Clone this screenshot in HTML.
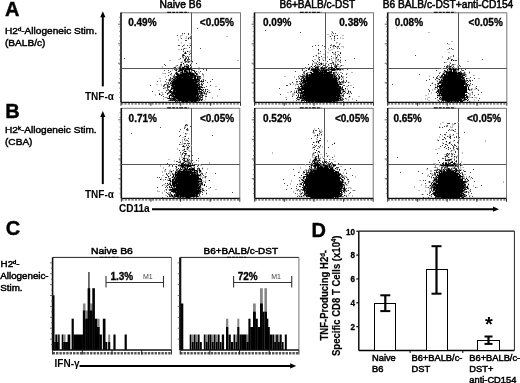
<!DOCTYPE html>
<html><head><meta charset="utf-8"><style>
html,body{margin:0;padding:0;background:#fff;}
body{width:520px;height:383px;overflow:hidden;}
svg{display:block;font-family:"Liberation Sans", sans-serif;will-change:transform;}
</style></head><body>
<svg width="520" height="383" viewBox="0 0 520 383">
<line x1="121" y1="12.8" x2="240.5" y2="12.8" stroke="#777" stroke-width="1"/>
<line x1="240.5" y1="12.5" x2="240.5" y2="102.3" stroke="#777" stroke-width="1"/>
<line x1="121" y1="102.3" x2="240.5" y2="102.3" stroke="#111" stroke-width="1.3"/>
<line x1="121" y1="12.5" x2="121" y2="102.3" stroke="#111" stroke-width="1.6"/>
<line x1="191.5" y1="12.5" x2="191.5" y2="102.3" stroke="#555" stroke-width="1"/>
<line x1="121" y1="68.5" x2="240.5" y2="68.5" stroke="#555" stroke-width="1"/>
<line x1="118" y1="82.77826086956522" x2="121" y2="82.77826086956522" stroke="#444" stroke-width="0.8"/>
<line x1="118" y1="63.25652173913043" x2="121" y2="63.25652173913043" stroke="#444" stroke-width="0.8"/>
<line x1="118" y1="43.73478260869565" x2="121" y2="43.73478260869565" stroke="#444" stroke-width="0.8"/>
<line x1="118" y1="24.213043478260857" x2="121" y2="24.213043478260857" stroke="#444" stroke-width="0.8"/>
<line x1="121" y1="103.8" x2="240.5" y2="103.8" stroke="#555" stroke-width="1.3" stroke-dasharray="2.2 1.2"/>
<line x1="119.2" y1="97.57368421052631" x2="121" y2="97.57368421052631" stroke="#555" stroke-width="0.7"/>
<line x1="119.2" y1="92.84736842105264" x2="121" y2="92.84736842105264" stroke="#555" stroke-width="0.7"/>
<line x1="119.2" y1="88.12105263157895" x2="121" y2="88.12105263157895" stroke="#555" stroke-width="0.7"/>
<line x1="119.2" y1="83.39473684210526" x2="121" y2="83.39473684210526" stroke="#555" stroke-width="0.7"/>
<line x1="119.2" y1="78.66842105263157" x2="121" y2="78.66842105263157" stroke="#555" stroke-width="0.7"/>
<line x1="119.2" y1="73.9421052631579" x2="121" y2="73.9421052631579" stroke="#555" stroke-width="0.7"/>
<line x1="119.2" y1="69.2157894736842" x2="121" y2="69.2157894736842" stroke="#555" stroke-width="0.7"/>
<line x1="119.2" y1="64.48947368421052" x2="121" y2="64.48947368421052" stroke="#555" stroke-width="0.7"/>
<line x1="119.2" y1="59.76315789473684" x2="121" y2="59.76315789473684" stroke="#555" stroke-width="0.7"/>
<line x1="119.2" y1="55.036842105263155" x2="121" y2="55.036842105263155" stroke="#555" stroke-width="0.7"/>
<line x1="119.2" y1="50.310526315789474" x2="121" y2="50.310526315789474" stroke="#555" stroke-width="0.7"/>
<line x1="119.2" y1="45.58421052631579" x2="121" y2="45.58421052631579" stroke="#555" stroke-width="0.7"/>
<line x1="119.2" y1="40.85789473684211" x2="121" y2="40.85789473684211" stroke="#555" stroke-width="0.7"/>
<line x1="119.2" y1="36.13157894736841" x2="121" y2="36.13157894736841" stroke="#555" stroke-width="0.7"/>
<line x1="119.2" y1="31.405263157894737" x2="121" y2="31.405263157894737" stroke="#555" stroke-width="0.7"/>
<line x1="119.2" y1="26.67894736842105" x2="121" y2="26.67894736842105" stroke="#555" stroke-width="0.7"/>
<line x1="119.2" y1="21.952631578947376" x2="121" y2="21.952631578947376" stroke="#555" stroke-width="0.7"/>
<line x1="119.2" y1="17.226315789473688" x2="121" y2="17.226315789473688" stroke="#555" stroke-width="0.7"/>
<line x1="167.2" y1="12.4" x2="188.7" y2="12.4" stroke="#111" stroke-width="1.3" stroke-dasharray="4 1 3 1 2 1"/>
<line x1="121.0" y1="102.3" x2="121.0" y2="105.8" stroke="#333" stroke-width="1"/>
<line x1="150.875" y1="102.3" x2="150.875" y2="105.8" stroke="#333" stroke-width="1"/>
<line x1="180.75" y1="102.3" x2="180.75" y2="105.8" stroke="#333" stroke-width="1"/>
<line x1="210.625" y1="102.3" x2="210.625" y2="105.8" stroke="#333" stroke-width="1"/>
<line x1="240.5" y1="102.3" x2="240.5" y2="105.8" stroke="#333" stroke-width="1"/>
<line x1="254.5" y1="12.8" x2="373.5" y2="12.8" stroke="#777" stroke-width="1"/>
<line x1="373.5" y1="12.5" x2="373.5" y2="102.3" stroke="#777" stroke-width="1"/>
<line x1="254.5" y1="102.3" x2="373.5" y2="102.3" stroke="#111" stroke-width="1.3"/>
<line x1="254.5" y1="12.5" x2="254.5" y2="102.3" stroke="#111" stroke-width="1.6"/>
<line x1="325.5" y1="12.5" x2="325.5" y2="102.3" stroke="#555" stroke-width="1"/>
<line x1="254.5" y1="68.5" x2="373.5" y2="68.5" stroke="#555" stroke-width="1"/>
<line x1="251.5" y1="82.77826086956522" x2="254.5" y2="82.77826086956522" stroke="#444" stroke-width="0.8"/>
<line x1="251.5" y1="63.25652173913043" x2="254.5" y2="63.25652173913043" stroke="#444" stroke-width="0.8"/>
<line x1="251.5" y1="43.73478260869565" x2="254.5" y2="43.73478260869565" stroke="#444" stroke-width="0.8"/>
<line x1="251.5" y1="24.213043478260857" x2="254.5" y2="24.213043478260857" stroke="#444" stroke-width="0.8"/>
<line x1="254.5" y1="103.8" x2="373.5" y2="103.8" stroke="#555" stroke-width="1.3" stroke-dasharray="2.2 1.2"/>
<line x1="252.7" y1="97.57368421052631" x2="254.5" y2="97.57368421052631" stroke="#555" stroke-width="0.7"/>
<line x1="252.7" y1="92.84736842105264" x2="254.5" y2="92.84736842105264" stroke="#555" stroke-width="0.7"/>
<line x1="252.7" y1="88.12105263157895" x2="254.5" y2="88.12105263157895" stroke="#555" stroke-width="0.7"/>
<line x1="252.7" y1="83.39473684210526" x2="254.5" y2="83.39473684210526" stroke="#555" stroke-width="0.7"/>
<line x1="252.7" y1="78.66842105263157" x2="254.5" y2="78.66842105263157" stroke="#555" stroke-width="0.7"/>
<line x1="252.7" y1="73.9421052631579" x2="254.5" y2="73.9421052631579" stroke="#555" stroke-width="0.7"/>
<line x1="252.7" y1="69.2157894736842" x2="254.5" y2="69.2157894736842" stroke="#555" stroke-width="0.7"/>
<line x1="252.7" y1="64.48947368421052" x2="254.5" y2="64.48947368421052" stroke="#555" stroke-width="0.7"/>
<line x1="252.7" y1="59.76315789473684" x2="254.5" y2="59.76315789473684" stroke="#555" stroke-width="0.7"/>
<line x1="252.7" y1="55.036842105263155" x2="254.5" y2="55.036842105263155" stroke="#555" stroke-width="0.7"/>
<line x1="252.7" y1="50.310526315789474" x2="254.5" y2="50.310526315789474" stroke="#555" stroke-width="0.7"/>
<line x1="252.7" y1="45.58421052631579" x2="254.5" y2="45.58421052631579" stroke="#555" stroke-width="0.7"/>
<line x1="252.7" y1="40.85789473684211" x2="254.5" y2="40.85789473684211" stroke="#555" stroke-width="0.7"/>
<line x1="252.7" y1="36.13157894736841" x2="254.5" y2="36.13157894736841" stroke="#555" stroke-width="0.7"/>
<line x1="252.7" y1="31.405263157894737" x2="254.5" y2="31.405263157894737" stroke="#555" stroke-width="0.7"/>
<line x1="252.7" y1="26.67894736842105" x2="254.5" y2="26.67894736842105" stroke="#555" stroke-width="0.7"/>
<line x1="252.7" y1="21.952631578947376" x2="254.5" y2="21.952631578947376" stroke="#555" stroke-width="0.7"/>
<line x1="252.7" y1="17.226315789473688" x2="254.5" y2="17.226315789473688" stroke="#555" stroke-width="0.7"/>
<line x1="299.8" y1="12.4" x2="321.3" y2="12.4" stroke="#111" stroke-width="1.3" stroke-dasharray="4 1 3 1 2 1"/>
<line x1="254.5" y1="102.3" x2="254.5" y2="105.8" stroke="#333" stroke-width="1"/>
<line x1="284.25" y1="102.3" x2="284.25" y2="105.8" stroke="#333" stroke-width="1"/>
<line x1="314.0" y1="102.3" x2="314.0" y2="105.8" stroke="#333" stroke-width="1"/>
<line x1="343.75" y1="102.3" x2="343.75" y2="105.8" stroke="#333" stroke-width="1"/>
<line x1="373.5" y1="102.3" x2="373.5" y2="105.8" stroke="#333" stroke-width="1"/>
<line x1="387.7" y1="12.8" x2="506.8" y2="12.8" stroke="#777" stroke-width="1"/>
<line x1="506.8" y1="12.5" x2="506.8" y2="102.3" stroke="#777" stroke-width="1"/>
<line x1="387.7" y1="102.3" x2="506.8" y2="102.3" stroke="#111" stroke-width="1.3"/>
<line x1="387.7" y1="12.5" x2="387.7" y2="102.3" stroke="#111" stroke-width="1.6"/>
<line x1="458.5" y1="12.5" x2="458.5" y2="102.3" stroke="#555" stroke-width="1"/>
<line x1="387.7" y1="68.5" x2="506.8" y2="68.5" stroke="#555" stroke-width="1"/>
<line x1="384.7" y1="82.77826086956522" x2="387.7" y2="82.77826086956522" stroke="#444" stroke-width="0.8"/>
<line x1="384.7" y1="63.25652173913043" x2="387.7" y2="63.25652173913043" stroke="#444" stroke-width="0.8"/>
<line x1="384.7" y1="43.73478260869565" x2="387.7" y2="43.73478260869565" stroke="#444" stroke-width="0.8"/>
<line x1="384.7" y1="24.213043478260857" x2="387.7" y2="24.213043478260857" stroke="#444" stroke-width="0.8"/>
<line x1="387.7" y1="103.8" x2="506.8" y2="103.8" stroke="#555" stroke-width="1.3" stroke-dasharray="2.2 1.2"/>
<line x1="385.9" y1="97.57368421052631" x2="387.7" y2="97.57368421052631" stroke="#555" stroke-width="0.7"/>
<line x1="385.9" y1="92.84736842105264" x2="387.7" y2="92.84736842105264" stroke="#555" stroke-width="0.7"/>
<line x1="385.9" y1="88.12105263157895" x2="387.7" y2="88.12105263157895" stroke="#555" stroke-width="0.7"/>
<line x1="385.9" y1="83.39473684210526" x2="387.7" y2="83.39473684210526" stroke="#555" stroke-width="0.7"/>
<line x1="385.9" y1="78.66842105263157" x2="387.7" y2="78.66842105263157" stroke="#555" stroke-width="0.7"/>
<line x1="385.9" y1="73.9421052631579" x2="387.7" y2="73.9421052631579" stroke="#555" stroke-width="0.7"/>
<line x1="385.9" y1="69.2157894736842" x2="387.7" y2="69.2157894736842" stroke="#555" stroke-width="0.7"/>
<line x1="385.9" y1="64.48947368421052" x2="387.7" y2="64.48947368421052" stroke="#555" stroke-width="0.7"/>
<line x1="385.9" y1="59.76315789473684" x2="387.7" y2="59.76315789473684" stroke="#555" stroke-width="0.7"/>
<line x1="385.9" y1="55.036842105263155" x2="387.7" y2="55.036842105263155" stroke="#555" stroke-width="0.7"/>
<line x1="385.9" y1="50.310526315789474" x2="387.7" y2="50.310526315789474" stroke="#555" stroke-width="0.7"/>
<line x1="385.9" y1="45.58421052631579" x2="387.7" y2="45.58421052631579" stroke="#555" stroke-width="0.7"/>
<line x1="385.9" y1="40.85789473684211" x2="387.7" y2="40.85789473684211" stroke="#555" stroke-width="0.7"/>
<line x1="385.9" y1="36.13157894736841" x2="387.7" y2="36.13157894736841" stroke="#555" stroke-width="0.7"/>
<line x1="385.9" y1="31.405263157894737" x2="387.7" y2="31.405263157894737" stroke="#555" stroke-width="0.7"/>
<line x1="385.9" y1="26.67894736842105" x2="387.7" y2="26.67894736842105" stroke="#555" stroke-width="0.7"/>
<line x1="385.9" y1="21.952631578947376" x2="387.7" y2="21.952631578947376" stroke="#555" stroke-width="0.7"/>
<line x1="385.9" y1="17.226315789473688" x2="387.7" y2="17.226315789473688" stroke="#555" stroke-width="0.7"/>
<line x1="433.8" y1="12.4" x2="455.3" y2="12.4" stroke="#111" stroke-width="1.3" stroke-dasharray="4 1 3 1 2 1"/>
<line x1="387.7" y1="102.3" x2="387.7" y2="105.8" stroke="#333" stroke-width="1"/>
<line x1="417.475" y1="102.3" x2="417.475" y2="105.8" stroke="#333" stroke-width="1"/>
<line x1="447.25" y1="102.3" x2="447.25" y2="105.8" stroke="#333" stroke-width="1"/>
<line x1="477.025" y1="102.3" x2="477.025" y2="105.8" stroke="#333" stroke-width="1"/>
<line x1="506.8" y1="102.3" x2="506.8" y2="105.8" stroke="#333" stroke-width="1"/>
<line x1="121.3" y1="108.3" x2="239.8" y2="108.3" stroke="#777" stroke-width="1"/>
<line x1="239.8" y1="108" x2="239.8" y2="198.3" stroke="#777" stroke-width="1"/>
<line x1="121.3" y1="198.3" x2="239.8" y2="198.3" stroke="#111" stroke-width="1.3"/>
<line x1="121.3" y1="108" x2="121.3" y2="198.3" stroke="#111" stroke-width="1.6"/>
<line x1="191.5" y1="108" x2="191.5" y2="198.3" stroke="#555" stroke-width="1"/>
<line x1="121.3" y1="164.5" x2="239.8" y2="164.5" stroke="#555" stroke-width="1"/>
<line x1="118.3" y1="178.66956521739132" x2="121.3" y2="178.66956521739132" stroke="#444" stroke-width="0.8"/>
<line x1="118.3" y1="159.0391304347826" x2="121.3" y2="159.0391304347826" stroke="#444" stroke-width="0.8"/>
<line x1="118.3" y1="139.40869565217392" x2="121.3" y2="139.40869565217392" stroke="#444" stroke-width="0.8"/>
<line x1="118.3" y1="119.77826086956522" x2="121.3" y2="119.77826086956522" stroke="#444" stroke-width="0.8"/>
<line x1="121.3" y1="199.8" x2="239.8" y2="199.8" stroke="#555" stroke-width="1.3" stroke-dasharray="2.2 1.2"/>
<line x1="119.5" y1="193.54736842105265" x2="121.3" y2="193.54736842105265" stroke="#555" stroke-width="0.7"/>
<line x1="119.5" y1="188.79473684210527" x2="121.3" y2="188.79473684210527" stroke="#555" stroke-width="0.7"/>
<line x1="119.5" y1="184.0421052631579" x2="121.3" y2="184.0421052631579" stroke="#555" stroke-width="0.7"/>
<line x1="119.5" y1="179.28947368421052" x2="121.3" y2="179.28947368421052" stroke="#555" stroke-width="0.7"/>
<line x1="119.5" y1="174.53684210526316" x2="121.3" y2="174.53684210526316" stroke="#555" stroke-width="0.7"/>
<line x1="119.5" y1="169.7842105263158" x2="121.3" y2="169.7842105263158" stroke="#555" stroke-width="0.7"/>
<line x1="119.5" y1="165.03157894736842" x2="121.3" y2="165.03157894736842" stroke="#555" stroke-width="0.7"/>
<line x1="119.5" y1="160.27894736842106" x2="121.3" y2="160.27894736842106" stroke="#555" stroke-width="0.7"/>
<line x1="119.5" y1="155.5263157894737" x2="121.3" y2="155.5263157894737" stroke="#555" stroke-width="0.7"/>
<line x1="119.5" y1="150.7736842105263" x2="121.3" y2="150.7736842105263" stroke="#555" stroke-width="0.7"/>
<line x1="119.5" y1="146.02105263157895" x2="121.3" y2="146.02105263157895" stroke="#555" stroke-width="0.7"/>
<line x1="119.5" y1="141.2684210526316" x2="121.3" y2="141.2684210526316" stroke="#555" stroke-width="0.7"/>
<line x1="119.5" y1="136.5157894736842" x2="121.3" y2="136.5157894736842" stroke="#555" stroke-width="0.7"/>
<line x1="119.5" y1="131.76315789473682" x2="121.3" y2="131.76315789473682" stroke="#555" stroke-width="0.7"/>
<line x1="119.5" y1="127.01052631578948" x2="121.3" y2="127.01052631578948" stroke="#555" stroke-width="0.7"/>
<line x1="119.5" y1="122.2578947368421" x2="121.3" y2="122.2578947368421" stroke="#555" stroke-width="0.7"/>
<line x1="119.5" y1="117.50526315789475" x2="121.3" y2="117.50526315789475" stroke="#555" stroke-width="0.7"/>
<line x1="119.5" y1="112.75263157894737" x2="121.3" y2="112.75263157894737" stroke="#555" stroke-width="0.7"/>
<line x1="167.2" y1="107.9" x2="188.7" y2="107.9" stroke="#111" stroke-width="1.3" stroke-dasharray="4 1 3 1 2 1"/>
<line x1="121.3" y1="198.3" x2="121.3" y2="201.8" stroke="#333" stroke-width="1"/>
<line x1="150.925" y1="198.3" x2="150.925" y2="201.8" stroke="#333" stroke-width="1"/>
<line x1="180.55" y1="198.3" x2="180.55" y2="201.8" stroke="#333" stroke-width="1"/>
<line x1="210.175" y1="198.3" x2="210.175" y2="201.8" stroke="#333" stroke-width="1"/>
<line x1="239.8" y1="198.3" x2="239.8" y2="201.8" stroke="#333" stroke-width="1"/>
<line x1="254.7" y1="108.3" x2="373.2" y2="108.3" stroke="#777" stroke-width="1"/>
<line x1="373.2" y1="108" x2="373.2" y2="198.3" stroke="#777" stroke-width="1"/>
<line x1="254.7" y1="198.3" x2="373.2" y2="198.3" stroke="#111" stroke-width="1.3"/>
<line x1="254.7" y1="108" x2="254.7" y2="198.3" stroke="#111" stroke-width="1.6"/>
<line x1="324.5" y1="108" x2="324.5" y2="198.3" stroke="#555" stroke-width="1"/>
<line x1="254.7" y1="164.5" x2="373.2" y2="164.5" stroke="#555" stroke-width="1"/>
<line x1="251.7" y1="178.66956521739132" x2="254.7" y2="178.66956521739132" stroke="#444" stroke-width="0.8"/>
<line x1="251.7" y1="159.0391304347826" x2="254.7" y2="159.0391304347826" stroke="#444" stroke-width="0.8"/>
<line x1="251.7" y1="139.40869565217392" x2="254.7" y2="139.40869565217392" stroke="#444" stroke-width="0.8"/>
<line x1="251.7" y1="119.77826086956522" x2="254.7" y2="119.77826086956522" stroke="#444" stroke-width="0.8"/>
<line x1="254.7" y1="199.8" x2="373.2" y2="199.8" stroke="#555" stroke-width="1.3" stroke-dasharray="2.2 1.2"/>
<line x1="252.89999999999998" y1="193.54736842105265" x2="254.7" y2="193.54736842105265" stroke="#555" stroke-width="0.7"/>
<line x1="252.89999999999998" y1="188.79473684210527" x2="254.7" y2="188.79473684210527" stroke="#555" stroke-width="0.7"/>
<line x1="252.89999999999998" y1="184.0421052631579" x2="254.7" y2="184.0421052631579" stroke="#555" stroke-width="0.7"/>
<line x1="252.89999999999998" y1="179.28947368421052" x2="254.7" y2="179.28947368421052" stroke="#555" stroke-width="0.7"/>
<line x1="252.89999999999998" y1="174.53684210526316" x2="254.7" y2="174.53684210526316" stroke="#555" stroke-width="0.7"/>
<line x1="252.89999999999998" y1="169.7842105263158" x2="254.7" y2="169.7842105263158" stroke="#555" stroke-width="0.7"/>
<line x1="252.89999999999998" y1="165.03157894736842" x2="254.7" y2="165.03157894736842" stroke="#555" stroke-width="0.7"/>
<line x1="252.89999999999998" y1="160.27894736842106" x2="254.7" y2="160.27894736842106" stroke="#555" stroke-width="0.7"/>
<line x1="252.89999999999998" y1="155.5263157894737" x2="254.7" y2="155.5263157894737" stroke="#555" stroke-width="0.7"/>
<line x1="252.89999999999998" y1="150.7736842105263" x2="254.7" y2="150.7736842105263" stroke="#555" stroke-width="0.7"/>
<line x1="252.89999999999998" y1="146.02105263157895" x2="254.7" y2="146.02105263157895" stroke="#555" stroke-width="0.7"/>
<line x1="252.89999999999998" y1="141.2684210526316" x2="254.7" y2="141.2684210526316" stroke="#555" stroke-width="0.7"/>
<line x1="252.89999999999998" y1="136.5157894736842" x2="254.7" y2="136.5157894736842" stroke="#555" stroke-width="0.7"/>
<line x1="252.89999999999998" y1="131.76315789473682" x2="254.7" y2="131.76315789473682" stroke="#555" stroke-width="0.7"/>
<line x1="252.89999999999998" y1="127.01052631578948" x2="254.7" y2="127.01052631578948" stroke="#555" stroke-width="0.7"/>
<line x1="252.89999999999998" y1="122.2578947368421" x2="254.7" y2="122.2578947368421" stroke="#555" stroke-width="0.7"/>
<line x1="252.89999999999998" y1="117.50526315789475" x2="254.7" y2="117.50526315789475" stroke="#555" stroke-width="0.7"/>
<line x1="252.89999999999998" y1="112.75263157894737" x2="254.7" y2="112.75263157894737" stroke="#555" stroke-width="0.7"/>
<line x1="299.8" y1="107.9" x2="321.3" y2="107.9" stroke="#111" stroke-width="1.3" stroke-dasharray="4 1 3 1 2 1"/>
<line x1="254.7" y1="198.3" x2="254.7" y2="201.8" stroke="#333" stroke-width="1"/>
<line x1="284.325" y1="198.3" x2="284.325" y2="201.8" stroke="#333" stroke-width="1"/>
<line x1="313.95" y1="198.3" x2="313.95" y2="201.8" stroke="#333" stroke-width="1"/>
<line x1="343.575" y1="198.3" x2="343.575" y2="201.8" stroke="#333" stroke-width="1"/>
<line x1="373.2" y1="198.3" x2="373.2" y2="201.8" stroke="#333" stroke-width="1"/>
<line x1="387.7" y1="108.3" x2="506.5" y2="108.3" stroke="#777" stroke-width="1"/>
<line x1="506.5" y1="108" x2="506.5" y2="198.3" stroke="#777" stroke-width="1"/>
<line x1="387.7" y1="198.3" x2="506.5" y2="198.3" stroke="#111" stroke-width="1.3"/>
<line x1="387.7" y1="108" x2="387.7" y2="198.3" stroke="#111" stroke-width="1.6"/>
<line x1="458.5" y1="108" x2="458.5" y2="198.3" stroke="#555" stroke-width="1"/>
<line x1="387.7" y1="164.5" x2="506.5" y2="164.5" stroke="#555" stroke-width="1"/>
<line x1="384.7" y1="178.66956521739132" x2="387.7" y2="178.66956521739132" stroke="#444" stroke-width="0.8"/>
<line x1="384.7" y1="159.0391304347826" x2="387.7" y2="159.0391304347826" stroke="#444" stroke-width="0.8"/>
<line x1="384.7" y1="139.40869565217392" x2="387.7" y2="139.40869565217392" stroke="#444" stroke-width="0.8"/>
<line x1="384.7" y1="119.77826086956522" x2="387.7" y2="119.77826086956522" stroke="#444" stroke-width="0.8"/>
<line x1="387.7" y1="199.8" x2="506.5" y2="199.8" stroke="#555" stroke-width="1.3" stroke-dasharray="2.2 1.2"/>
<line x1="385.9" y1="193.54736842105265" x2="387.7" y2="193.54736842105265" stroke="#555" stroke-width="0.7"/>
<line x1="385.9" y1="188.79473684210527" x2="387.7" y2="188.79473684210527" stroke="#555" stroke-width="0.7"/>
<line x1="385.9" y1="184.0421052631579" x2="387.7" y2="184.0421052631579" stroke="#555" stroke-width="0.7"/>
<line x1="385.9" y1="179.28947368421052" x2="387.7" y2="179.28947368421052" stroke="#555" stroke-width="0.7"/>
<line x1="385.9" y1="174.53684210526316" x2="387.7" y2="174.53684210526316" stroke="#555" stroke-width="0.7"/>
<line x1="385.9" y1="169.7842105263158" x2="387.7" y2="169.7842105263158" stroke="#555" stroke-width="0.7"/>
<line x1="385.9" y1="165.03157894736842" x2="387.7" y2="165.03157894736842" stroke="#555" stroke-width="0.7"/>
<line x1="385.9" y1="160.27894736842106" x2="387.7" y2="160.27894736842106" stroke="#555" stroke-width="0.7"/>
<line x1="385.9" y1="155.5263157894737" x2="387.7" y2="155.5263157894737" stroke="#555" stroke-width="0.7"/>
<line x1="385.9" y1="150.7736842105263" x2="387.7" y2="150.7736842105263" stroke="#555" stroke-width="0.7"/>
<line x1="385.9" y1="146.02105263157895" x2="387.7" y2="146.02105263157895" stroke="#555" stroke-width="0.7"/>
<line x1="385.9" y1="141.2684210526316" x2="387.7" y2="141.2684210526316" stroke="#555" stroke-width="0.7"/>
<line x1="385.9" y1="136.5157894736842" x2="387.7" y2="136.5157894736842" stroke="#555" stroke-width="0.7"/>
<line x1="385.9" y1="131.76315789473682" x2="387.7" y2="131.76315789473682" stroke="#555" stroke-width="0.7"/>
<line x1="385.9" y1="127.01052631578948" x2="387.7" y2="127.01052631578948" stroke="#555" stroke-width="0.7"/>
<line x1="385.9" y1="122.2578947368421" x2="387.7" y2="122.2578947368421" stroke="#555" stroke-width="0.7"/>
<line x1="385.9" y1="117.50526315789475" x2="387.7" y2="117.50526315789475" stroke="#555" stroke-width="0.7"/>
<line x1="385.9" y1="112.75263157894737" x2="387.7" y2="112.75263157894737" stroke="#555" stroke-width="0.7"/>
<line x1="433.8" y1="107.9" x2="455.3" y2="107.9" stroke="#111" stroke-width="1.3" stroke-dasharray="4 1 3 1 2 1"/>
<line x1="387.7" y1="198.3" x2="387.7" y2="201.8" stroke="#333" stroke-width="1"/>
<line x1="417.4" y1="198.3" x2="417.4" y2="201.8" stroke="#333" stroke-width="1"/>
<line x1="447.1" y1="198.3" x2="447.1" y2="201.8" stroke="#333" stroke-width="1"/>
<line x1="476.8" y1="198.3" x2="476.8" y2="201.8" stroke="#333" stroke-width="1"/>
<line x1="506.5" y1="198.3" x2="506.5" y2="201.8" stroke="#333" stroke-width="1"/>
<path fill="#bbb" d="M396 27h1v1h-1zM396 28h1v1h-1zM331 31h2v1h-2zM428 32h2v1h-2zM331 33h1v1h-1zM182 34h1v1h-1zM190 34h2v1h-2zM327 34h2v1h-2zM331 34h1v1h-1zM180 35h3v1h-3zM334 35h3v1h-3zM342 35h2v1h-2zM180 36h1v1h-1zM186 36h1v1h-1zM226 36h2v1h-2zM329 36h1v1h-1zM180 37h1v1h-1zM186 37h1v1h-1zM188 37h1v1h-1zM340 37h1v1h-1zM185 38h2v1h-2zM340 38h1v1h-1zM342 38h2v1h-2zM178 39h1v1h-1zM188 39h1v1h-1zM331 39h1v1h-1zM334 39h1v1h-1zM178 40h1v1h-1zM451 41h2v1h-2zM181 42h1v1h-1zM337 42h1v1h-1zM181 43h1v1h-1zM189 43h2v1h-2zM336 43h1v1h-1zM339 43h2v1h-2zM184 44h1v1h-1zM448 44h2v1h-2zM184 45h1v1h-1zM189 45h1v1h-1zM332 46h1v1h-1zM334 46h1v1h-1zM341 46h3v1h-3zM333 47h1v1h-1zM336 47h3v1h-3zM343 47h1v1h-1zM183 48h1v1h-1zM185 48h2v1h-2zM328 48h1v1h-1zM333 48h2v1h-2zM178 49h2v1h-2zM324 49h2v1h-2zM328 49h1v1h-1zM331 49h2v1h-2zM447 49h2v1h-2zM183 50h1v1h-1zM190 50h1v1h-1zM329 50h2v1h-2zM185 51h1v1h-1zM188 51h3v1h-3zM335 51h1v1h-1zM338 51h1v1h-1zM184 52h1v1h-1zM189 52h1v1h-1zM318 52h1v1h-1zM327 52h2v1h-2zM333 52h1v1h-1zM448 52h2v1h-2zM319 53h2v1h-2zM333 53h3v1h-3zM318 54h1v1h-1zM323 54h2v1h-2zM333 54h2v1h-2zM315 55h1v1h-1zM335 55h1v1h-1zM183 56h1v1h-1zM188 56h3v1h-3zM316 56h1v1h-1zM318 56h1v1h-1zM327 56h1v1h-1zM335 56h1v1h-1zM442 56h1v1h-1zM450 56h2v1h-2zM182 57h1v1h-1zM185 57h1v1h-1zM323 57h2v1h-2zM327 57h1v1h-1zM333 57h1v1h-1zM335 57h1v1h-1zM337 57h1v1h-1zM442 57h1v1h-1zM450 57h1v1h-1zM183 58h1v1h-1zM322 58h1v1h-1zM333 58h1v1h-1zM450 58h1v1h-1zM178 59h2v1h-2zM314 59h2v1h-2zM318 59h1v1h-1zM322 59h1v1h-1zM331 59h1v1h-1zM335 59h3v1h-3zM340 59h1v1h-1zM448 59h1v1h-1zM169 60h2v1h-2zM188 60h1v1h-1zM190 60h1v1h-1zM237 60h2v1h-2zM331 60h2v1h-2zM335 60h1v1h-1zM338 60h1v1h-1zM454 60h1v1h-1zM182 61h1v1h-1zM184 61h1v1h-1zM190 61h1v1h-1zM325 61h1v1h-1zM332 61h1v1h-1zM336 61h1v1h-1zM338 61h1v1h-1zM340 61h1v1h-1zM467 61h2v1h-2zM180 62h1v1h-1zM182 62h1v1h-1zM184 62h1v1h-1zM186 62h2v1h-2zM189 62h1v1h-1zM191 62h2v1h-2zM314 62h3v1h-3zM318 62h1v1h-1zM321 62h1v1h-1zM325 62h1v1h-1zM335 62h2v1h-2zM445 62h2v1h-2zM449 62h2v1h-2zM181 63h1v1h-1zM314 63h2v1h-2zM318 63h1v1h-1zM322 63h1v1h-1zM329 63h1v1h-1zM332 63h1v1h-1zM335 63h1v1h-1zM337 63h1v1h-1zM183 64h2v1h-2zM191 64h1v1h-1zM316 64h1v1h-1zM318 64h1v1h-1zM320 64h1v1h-1zM322 64h2v1h-2zM331 64h1v1h-1zM334 64h1v1h-1zM454 64h2v1h-2zM176 65h1v1h-1zM185 65h1v1h-1zM187 65h1v1h-1zM191 65h1v1h-1zM312 65h1v1h-1zM317 65h2v1h-2zM329 65h1v1h-1zM337 65h1v1h-1zM340 65h1v1h-1zM342 65h2v1h-2zM448 65h1v1h-1zM452 65h2v1h-2zM457 65h2v1h-2zM162 66h1v1h-1zM175 66h2v1h-2zM181 66h2v1h-2zM189 66h1v1h-1zM310 66h1v1h-1zM313 66h1v1h-1zM315 66h1v1h-1zM326 66h1v1h-1zM337 66h3v1h-3zM457 66h1v1h-1zM162 67h1v1h-1zM173 67h1v1h-1zM177 67h2v1h-2zM181 67h1v1h-1zM185 67h1v1h-1zM198 67h2v1h-2zM307 67h1v1h-1zM310 67h1v1h-1zM334 67h1v1h-1zM339 67h1v1h-1zM448 67h1v1h-1zM451 67h1v1h-1zM453 67h2v1h-2zM457 67h1v1h-1zM177 68h1v1h-1zM305 68h1v1h-1zM307 68h1v1h-1zM310 68h1v1h-1zM319 68h1v1h-1zM326 68h2v1h-2zM330 68h1v1h-1zM335 68h1v1h-1zM441 68h2v1h-2zM447 68h1v1h-1zM457 68h1v1h-1zM172 69h1v1h-1zM178 69h1v1h-1zM198 69h2v1h-2zM341 69h1v1h-1zM343 69h1v1h-1zM448 69h1v1h-1zM172 70h1v1h-1zM183 70h1v1h-1zM305 70h1v1h-1zM330 70h1v1h-1zM336 70h1v1h-1zM343 70h1v1h-1zM448 70h1v1h-1zM457 70h1v1h-1zM461 70h1v1h-1zM176 71h2v1h-2zM183 71h1v1h-1zM188 71h1v1h-1zM190 71h1v1h-1zM195 71h1v1h-1zM198 71h1v1h-1zM303 71h1v1h-1zM305 71h1v1h-1zM310 71h1v1h-1zM328 71h1v1h-1zM335 71h2v1h-2zM443 71h1v1h-1zM452 71h1v1h-1zM457 71h2v1h-2zM461 71h1v1h-1zM464 71h1v1h-1zM469 71h1v1h-1zM175 72h1v1h-1zM198 72h2v1h-2zM309 72h1v1h-1zM332 72h1v1h-1zM338 72h1v1h-1zM341 72h1v1h-1zM351 72h2v1h-2zM439 72h1v1h-1zM443 72h1v1h-1zM463 72h1v1h-1zM465 72h1v1h-1zM162 73h3v1h-3zM179 73h1v1h-1zM199 73h1v1h-1zM303 73h1v1h-1zM310 73h1v1h-1zM335 73h4v1h-4zM346 73h2v1h-2zM442 73h1v1h-1zM465 73h1v1h-1zM469 73h1v1h-1zM171 74h1v1h-1zM175 74h1v1h-1zM303 74h3v1h-3zM466 74h1v1h-1zM171 75h1v1h-1zM173 75h1v1h-1zM176 75h1v1h-1zM198 75h1v1h-1zM299 75h2v1h-2zM302 75h1v1h-1zM305 75h1v1h-1zM429 75h1v1h-1zM465 75h2v1h-2zM473 75h2v1h-2zM165 76h1v1h-1zM172 76h1v1h-1zM203 76h1v1h-1zM284 76h2v1h-2zM294 76h1v1h-1zM336 76h1v1h-1zM342 76h2v1h-2zM429 76h1v1h-1zM439 76h2v1h-2zM463 76h1v1h-1zM466 76h1v1h-1zM165 77h1v1h-1zM203 77h1v1h-1zM294 77h1v1h-1zM298 77h2v1h-2zM301 77h1v1h-1zM304 77h1v1h-1zM337 77h2v1h-2zM340 77h1v1h-1zM343 77h1v1h-1zM437 77h1v1h-1zM439 77h1v1h-1zM159 78h2v1h-2zM173 78h1v1h-1zM193 78h1v1h-1zM298 78h1v1h-1zM341 78h1v1h-1zM343 78h1v1h-1zM438 78h1v1h-1zM440 78h2v1h-2zM468 78h2v1h-2zM478 78h2v1h-2zM168 79h1v1h-1zM171 79h2v1h-2zM202 79h1v1h-1zM298 79h1v1h-1zM337 79h1v1h-1zM339 79h1v1h-1zM343 79h1v1h-1zM466 79h1v1h-1zM469 79h1v1h-1zM160 80h1v1h-1zM168 80h1v1h-1zM171 80h1v1h-1zM338 80h1v1h-1zM436 80h2v1h-2zM439 80h1v1h-1zM160 81h1v1h-1zM344 81h1v1h-1zM166 82h2v1h-2zM201 82h1v1h-1zM296 82h2v1h-2zM301 82h1v1h-1zM344 82h1v1h-1zM349 82h1v1h-1zM432 82h1v1h-1zM438 82h1v1h-1zM289 83h2v1h-2zM293 83h1v1h-1zM296 83h1v1h-1zM338 83h1v1h-1zM341 83h3v1h-3zM431 83h1v1h-1zM156 84h2v1h-2zM161 84h1v1h-1zM170 84h1v1h-1zM200 84h1v1h-1zM293 84h1v1h-1zM295 84h2v1h-2zM298 84h1v1h-1zM302 84h1v1h-1zM342 84h1v1h-1zM434 84h1v1h-1zM437 84h1v1h-1zM469 84h2v1h-2zM161 85h1v1h-1zM168 85h1v1h-1zM170 85h1v1h-1zM201 85h1v1h-1zM295 85h1v1h-1zM298 85h1v1h-1zM339 85h1v1h-1zM350 85h2v1h-2zM435 85h1v1h-1zM438 85h1v1h-1zM470 85h1v1h-1zM164 86h1v1h-1zM171 86h1v1h-1zM215 86h2v1h-2zM346 86h1v1h-1zM435 86h1v1h-1zM469 86h1v1h-1zM164 87h1v1h-1zM166 87h1v1h-1zM203 87h1v1h-1zM475 87h1v1h-1zM164 88h2v1h-2zM202 88h1v1h-1zM296 88h1v1h-1zM347 88h1v1h-1zM434 88h2v1h-2zM471 88h2v1h-2zM475 88h1v1h-1zM202 89h1v1h-1zM206 89h1v1h-1zM297 89h1v1h-1zM345 89h1v1h-1zM347 89h1v1h-1zM432 89h1v1h-1zM434 89h2v1h-2zM437 89h1v1h-1zM467 89h1v1h-1zM470 89h1v1h-1zM472 89h1v1h-1zM474 89h2v1h-2zM477 89h2v1h-2zM158 90h2v1h-2zM203 90h1v1h-1zM208 90h2v1h-2zM294 90h1v1h-1zM297 90h1v1h-1zM303 90h1v1h-1zM344 90h2v1h-2zM432 90h1v1h-1zM470 90h2v1h-2zM166 91h1v1h-1zM204 91h1v1h-1zM290 91h1v1h-1zM294 91h1v1h-1zM299 91h1v1h-1zM345 91h1v1h-1zM349 91h1v1h-1zM472 91h1v1h-1zM161 92h2v1h-2zM206 92h3v1h-3zM210 92h1v1h-1zM287 92h2v1h-2zM290 92h1v1h-1zM295 92h1v1h-1zM341 92h1v1h-1zM343 92h1v1h-1zM431 92h1v1h-1zM435 92h1v1h-1zM471 92h1v1h-1zM162 93h1v1h-1zM169 93h1v1h-1zM292 93h3v1h-3zM298 93h1v1h-1zM342 93h2v1h-2zM346 93h1v1h-1zM348 93h2v1h-2zM428 93h1v1h-1zM431 93h1v1h-1zM438 93h1v1h-1zM469 93h2v1h-2zM472 93h1v1h-1zM155 94h1v1h-1zM160 94h1v1h-1zM163 94h1v1h-1zM204 94h2v1h-2zM292 94h3v1h-3zM340 94h2v1h-2zM349 94h1v1h-1zM428 94h1v1h-1zM437 94h2v1h-2zM469 94h2v1h-2zM155 95h1v1h-1zM205 95h1v1h-1zM217 95h1v1h-1zM292 95h2v1h-2zM425 95h2v1h-2zM467 95h1v1h-1zM469 95h2v1h-2zM168 96h1v1h-1zM201 96h1v1h-1zM217 96h1v1h-1zM297 96h1v1h-1zM341 96h2v1h-2zM350 96h1v1h-1zM358 96h2v1h-2zM437 96h2v1h-2zM440 96h2v1h-2zM468 96h2v1h-2zM167 97h1v1h-1zM172 97h1v1h-1zM212 97h1v1h-1zM285 97h2v1h-2zM342 97h1v1h-1zM348 97h2v1h-2zM428 97h2v1h-2zM439 97h1v1h-1zM469 97h3v1h-3zM474 97h3v1h-3zM163 98h1v1h-1zM205 98h1v1h-1zM212 98h1v1h-1zM299 98h1v1h-1zM341 98h1v1h-1zM343 98h1v1h-1zM346 98h1v1h-1zM352 98h1v1h-1zM425 98h1v1h-1zM427 98h1v1h-1zM476 98h1v1h-1zM163 99h1v1h-1zM169 99h1v1h-1zM205 99h1v1h-1zM346 99h1v1h-1zM348 99h1v1h-1zM352 99h1v1h-1zM425 99h1v1h-1zM427 99h1v1h-1zM437 99h1v1h-1zM462 99h1v1h-1zM474 99h1v1h-1zM200 100h1v1h-1zM202 100h1v1h-1zM204 100h1v1h-1zM293 100h1v1h-1zM298 100h2v1h-2zM348 100h1v1h-1zM428 100h2v1h-2zM437 100h1v1h-1zM465 100h1v1h-1zM468 100h1v1h-1zM474 100h1v1h-1zM168 101h1v1h-1zM172 101h1v1h-1zM174 101h1v1h-1zM180 101h1v1h-1zM204 101h1v1h-1zM210 101h2v1h-2zM293 101h1v1h-1zM303 101h1v1h-1zM338 101h2v1h-2zM438 101h1v1h-1zM440 101h1v1h-1zM442 101h1v1h-1zM463 101h2v1h-2zM468 101h1v1h-1zM471 101h2v1h-2zM442 122h2v1h-2zM457 122h2v1h-2zM440 123h1v1h-1zM452 123h1v1h-1zM185 124h1v1h-1zM187 124h1v1h-1zM440 124h1v1h-1zM452 124h3v1h-3zM446 125h1v1h-1zM452 125h1v1h-1zM184 126h2v1h-2zM439 126h1v1h-1zM447 126h1v1h-1zM450 126h1v1h-1zM452 126h1v1h-1zM440 127h1v1h-1zM450 127h3v1h-3zM314 128h1v1h-1zM188 129h1v1h-1zM314 129h1v1h-1zM319 129h1v1h-1zM321 129h1v1h-1zM451 129h2v1h-2zM186 130h1v1h-1zM188 130h1v1h-1zM319 130h1v1h-1zM321 130h1v1h-1zM450 130h3v1h-3zM320 131h3v1h-3zM183 132h1v1h-1zM312 132h1v1h-1zM314 132h1v1h-1zM321 132h1v1h-1zM186 133h2v1h-2zM313 133h2v1h-2zM456 133h2v1h-2zM185 134h2v1h-2zM319 134h1v1h-1zM449 134h2v1h-2zM314 135h1v1h-1zM318 135h2v1h-2zM321 135h1v1h-1zM442 135h1v1h-1zM445 135h1v1h-1zM449 135h2v1h-2zM452 135h2v1h-2zM314 136h1v1h-1zM317 136h1v1h-1zM439 136h1v1h-1zM442 136h1v1h-1zM448 136h2v1h-2zM182 137h2v1h-2zM439 137h1v1h-1zM184 138h2v1h-2zM316 138h1v1h-1zM182 139h1v1h-1zM186 139h1v1h-1zM316 139h2v1h-2zM437 139h1v1h-1zM445 139h1v1h-1zM458 139h2v1h-2zM182 140h1v1h-1zM184 140h2v1h-2zM317 140h1v1h-1zM327 140h1v1h-1zM437 140h1v1h-1zM453 140h1v1h-1zM485 140h1v1h-1zM182 141h1v1h-1zM185 141h1v1h-1zM319 141h1v1h-1zM327 141h1v1h-1zM450 141h1v1h-1zM453 141h1v1h-1zM485 141h1v1h-1zM182 142h1v1h-1zM314 142h1v1h-1zM334 142h1v1h-1zM442 142h1v1h-1zM446 142h1v1h-1zM182 143h2v1h-2zM318 143h2v1h-2zM442 143h1v1h-1zM448 143h1v1h-1zM450 143h1v1h-1zM180 144h3v1h-3zM184 144h1v1h-1zM186 144h1v1h-1zM188 144h1v1h-1zM458 144h1v1h-1zM190 145h2v1h-2zM458 145h1v1h-1zM185 146h1v1h-1zM187 146h1v1h-1zM313 146h1v1h-1zM319 146h2v1h-2zM322 146h1v1h-1zM184 147h1v1h-1zM312 147h1v1h-1zM322 147h1v1h-1zM454 147h1v1h-1zM177 148h1v1h-1zM184 148h1v1h-1zM186 148h1v1h-1zM312 148h1v1h-1zM318 148h1v1h-1zM438 148h2v1h-2zM448 148h1v1h-1zM177 149h1v1h-1zM183 149h1v1h-1zM186 149h1v1h-1zM435 149h2v1h-2zM453 149h2v1h-2zM184 150h1v1h-1zM188 150h2v1h-2zM452 150h3v1h-3zM186 151h1v1h-1zM189 151h2v1h-2zM450 151h2v1h-2zM272 152h1v1h-1zM313 152h2v1h-2zM317 152h1v1h-1zM462 152h1v1h-1zM180 153h1v1h-1zM183 153h1v1h-1zM272 153h1v1h-1zM312 153h1v1h-1zM314 153h1v1h-1zM317 153h1v1h-1zM446 153h1v1h-1zM448 153h1v1h-1zM452 153h2v1h-2zM462 153h1v1h-1zM180 154h2v1h-2zM186 154h1v1h-1zM313 154h1v1h-1zM317 154h1v1h-1zM320 154h2v1h-2zM444 154h2v1h-2zM447 154h1v1h-1zM449 154h1v1h-1zM181 155h1v1h-1zM186 155h2v1h-2zM313 155h1v1h-1zM327 155h2v1h-2zM334 155h1v1h-1zM448 155h1v1h-1zM451 155h2v1h-2zM457 155h1v1h-1zM181 156h1v1h-1zM188 156h1v1h-1zM312 156h1v1h-1zM317 156h1v1h-1zM322 156h1v1h-1zM334 156h1v1h-1zM444 156h1v1h-1zM452 156h1v1h-1zM455 156h1v1h-1zM457 156h1v1h-1zM179 157h1v1h-1zM181 157h3v1h-3zM188 157h1v1h-1zM312 157h3v1h-3zM316 157h1v1h-1zM320 157h1v1h-1zM322 157h1v1h-1zM324 157h1v1h-1zM445 157h1v1h-1zM449 157h1v1h-1zM454 157h1v1h-1zM179 158h1v1h-1zM187 158h2v1h-2zM314 158h1v1h-1zM317 158h1v1h-1zM324 158h1v1h-1zM451 158h2v1h-2zM454 158h1v1h-1zM456 158h1v1h-1zM168 159h2v1h-2zM183 159h1v1h-1zM188 159h1v1h-1zM310 159h1v1h-1zM313 159h1v1h-1zM318 159h1v1h-1zM325 159h2v1h-2zM330 159h1v1h-1zM332 159h2v1h-2zM174 160h1v1h-1zM179 160h2v1h-2zM185 160h2v1h-2zM189 160h2v1h-2zM198 160h1v1h-1zM310 160h1v1h-1zM312 160h1v1h-1zM450 160h2v1h-2zM174 161h1v1h-1zM179 161h1v1h-1zM183 161h1v1h-1zM189 161h2v1h-2zM198 161h1v1h-1zM309 161h1v1h-1zM316 161h1v1h-1zM320 161h1v1h-1zM334 161h2v1h-2zM447 161h1v1h-1zM449 161h1v1h-1zM461 161h1v1h-1zM182 162h1v1h-1zM186 162h1v1h-1zM190 162h1v1h-1zM193 162h2v1h-2zM209 162h1v1h-1zM310 162h1v1h-1zM318 162h1v1h-1zM328 162h1v1h-1zM332 162h1v1h-1zM456 162h1v1h-1zM461 162h1v1h-1zM180 163h1v1h-1zM186 163h2v1h-2zM191 163h1v1h-1zM209 163h1v1h-1zM312 163h1v1h-1zM319 163h1v1h-1zM321 163h1v1h-1zM331 163h1v1h-1zM433 163h3v1h-3zM447 163h1v1h-1zM456 163h2v1h-2zM172 164h1v1h-1zM175 164h1v1h-1zM177 164h2v1h-2zM180 164h1v1h-1zM191 164h1v1h-1zM193 164h1v1h-1zM197 164h1v1h-1zM199 164h2v1h-2zM305 164h1v1h-1zM313 164h1v1h-1zM326 164h1v1h-1zM331 164h1v1h-1zM336 164h2v1h-2zM435 164h1v1h-1zM439 164h1v1h-1zM462 164h1v1h-1zM160 165h1v1h-1zM197 165h1v1h-1zM200 165h2v1h-2zM305 165h1v1h-1zM310 165h1v1h-1zM330 165h1v1h-1zM332 165h1v1h-1zM439 165h1v1h-1zM462 165h1v1h-1zM160 166h1v1h-1zM168 166h2v1h-2zM178 166h2v1h-2zM193 166h2v1h-2zM310 166h1v1h-1zM332 166h1v1h-1zM340 166h2v1h-2zM439 166h1v1h-1zM441 166h1v1h-1zM444 166h1v1h-1zM460 166h1v1h-1zM163 167h1v1h-1zM186 167h1v1h-1zM190 167h1v1h-1zM192 167h2v1h-2zM198 167h1v1h-1zM202 167h1v1h-1zM300 167h1v1h-1zM309 167h2v1h-2zM316 167h1v1h-1zM333 167h1v1h-1zM436 167h2v1h-2zM452 167h2v1h-2zM455 167h1v1h-1zM457 167h1v1h-1zM460 167h1v1h-1zM462 167h2v1h-2zM163 168h1v1h-1zM175 168h2v1h-2zM183 168h1v1h-1zM207 168h1v1h-1zM300 168h1v1h-1zM310 168h1v1h-1zM312 168h2v1h-2zM329 168h1v1h-1zM333 168h1v1h-1zM336 168h1v1h-1zM442 168h1v1h-1zM445 168h1v1h-1zM452 168h1v1h-1zM460 168h1v1h-1zM170 169h1v1h-1zM198 169h1v1h-1zM202 169h1v1h-1zM207 169h1v1h-1zM305 169h2v1h-2zM334 169h1v1h-1zM336 169h1v1h-1zM344 169h1v1h-1zM426 169h2v1h-2zM435 169h2v1h-2zM440 169h1v1h-1zM442 169h1v1h-1zM452 169h1v1h-1zM457 169h2v1h-2zM460 169h2v1h-2zM164 170h2v1h-2zM169 170h2v1h-2zM181 170h2v1h-2zM198 170h1v1h-1zM304 170h2v1h-2zM307 170h1v1h-1zM335 170h1v1h-1zM344 170h1v1h-1zM430 170h2v1h-2zM461 170h1v1h-1zM162 171h1v1h-1zM164 171h2v1h-2zM169 171h1v1h-1zM172 171h1v1h-1zM193 171h1v1h-1zM201 171h1v1h-1zM299 171h1v1h-1zM304 171h1v1h-1zM309 171h1v1h-1zM334 171h1v1h-1zM430 171h2v1h-2zM454 171h1v1h-1zM457 171h1v1h-1zM162 172h1v1h-1zM169 172h1v1h-1zM200 172h2v1h-2zM299 172h1v1h-1zM343 172h1v1h-1zM346 172h1v1h-1zM435 172h1v1h-1zM440 172h1v1h-1zM458 172h1v1h-1zM169 173h2v1h-2zM173 173h2v1h-2zM200 173h1v1h-1zM205 173h1v1h-1zM302 173h2v1h-2zM308 173h1v1h-1zM343 173h1v1h-1zM431 173h2v1h-2zM437 173h2v1h-2zM459 173h1v1h-1zM461 173h1v1h-1zM167 174h1v1h-1zM170 174h1v1h-1zM199 174h1v1h-1zM205 174h1v1h-1zM303 174h2v1h-2zM428 174h1v1h-1zM431 174h3v1h-3zM438 174h1v1h-1zM463 174h3v1h-3zM162 175h2v1h-2zM174 175h1v1h-1zM201 175h1v1h-1zM344 175h1v1h-1zM427 175h2v1h-2zM433 175h2v1h-2zM436 175h1v1h-1zM458 175h1v1h-1zM462 175h1v1h-1zM169 176h1v1h-1zM174 176h1v1h-1zM199 176h3v1h-3zM204 176h1v1h-1zM340 176h1v1h-1zM344 176h3v1h-3zM355 176h1v1h-1zM427 176h1v1h-1zM435 176h1v1h-1zM437 176h1v1h-1zM464 176h1v1h-1zM466 176h1v1h-1zM161 177h1v1h-1zM171 177h1v1h-1zM200 177h1v1h-1zM203 177h2v1h-2zM300 177h3v1h-3zM344 177h1v1h-1zM355 177h1v1h-1zM434 177h1v1h-1zM461 177h1v1h-1zM463 177h2v1h-2zM466 177h1v1h-1zM468 177h2v1h-2zM161 178h1v1h-1zM168 178h1v1h-1zM202 178h1v1h-1zM205 178h1v1h-1zM300 178h1v1h-1zM304 178h2v1h-2zM347 178h1v1h-1zM431 178h1v1h-1zM433 178h1v1h-1zM437 178h1v1h-1zM470 178h1v1h-1zM161 179h1v1h-1zM163 179h1v1h-1zM167 179h1v1h-1zM303 179h1v1h-1zM343 179h2v1h-2zM433 179h1v1h-1zM464 179h1v1h-1zM470 179h1v1h-1zM163 180h1v1h-1zM167 180h1v1h-1zM202 180h1v1h-1zM205 180h1v1h-1zM208 180h1v1h-1zM291 180h1v1h-1zM301 180h1v1h-1zM304 180h1v1h-1zM341 180h1v1h-1zM347 180h1v1h-1zM419 180h2v1h-2zM432 180h1v1h-1zM464 180h1v1h-1zM467 180h1v1h-1zM203 181h3v1h-3zM291 181h1v1h-1zM299 181h2v1h-2zM349 181h1v1h-1zM428 181h1v1h-1zM430 181h1v1h-1zM434 181h1v1h-1zM468 181h1v1h-1zM503 181h1v1h-1zM169 182h1v1h-1zM301 182h1v1h-1zM428 182h1v1h-1zM430 182h2v1h-2zM433 182h1v1h-1zM503 182h1v1h-1zM290 183h1v1h-1zM299 183h1v1h-1zM344 183h1v1h-1zM347 183h2v1h-2zM437 183h1v1h-1zM465 183h1v1h-1zM467 183h2v1h-2zM163 184h2v1h-2zM167 184h1v1h-1zM290 184h1v1h-1zM299 184h1v1h-1zM344 184h2v1h-2zM421 184h1v1h-1zM165 185h2v1h-2zM168 185h1v1h-1zM201 185h3v1h-3zM304 185h1v1h-1zM346 185h2v1h-2zM421 185h1v1h-1zM425 185h2v1h-2zM429 185h1v1h-1zM431 185h1v1h-1zM467 185h2v1h-2zM473 185h1v1h-1zM343 186h1v1h-1zM414 186h1v1h-1zM425 186h1v1h-1zM429 186h2v1h-2zM473 186h1v1h-1zM175 187h1v1h-1zM201 187h1v1h-1zM343 187h1v1h-1zM348 187h3v1h-3zM414 187h1v1h-1zM425 187h3v1h-3zM430 187h1v1h-1zM468 187h1v1h-1zM476 187h2v1h-2zM167 188h1v1h-1zM170 188h1v1h-1zM201 188h1v1h-1zM203 188h1v1h-1zM208 188h2v1h-2zM348 188h1v1h-1zM350 188h2v1h-2zM429 188h1v1h-1zM432 188h1v1h-1zM165 189h1v1h-1zM168 189h1v1h-1zM201 189h1v1h-1zM203 189h1v1h-1zM215 189h2v1h-2zM297 189h1v1h-1zM300 189h1v1h-1zM429 189h1v1h-1zM468 189h1v1h-1zM157 190h1v1h-1zM164 190h1v1h-1zM204 190h1v1h-1zM296 190h1v1h-1zM346 190h2v1h-2zM352 190h1v1h-1zM355 190h1v1h-1zM418 190h2v1h-2zM425 190h1v1h-1zM429 190h1v1h-1zM432 190h1v1h-1zM469 190h2v1h-2zM157 191h3v1h-3zM164 191h1v1h-1zM202 191h1v1h-1zM204 191h1v1h-1zM293 191h1v1h-1zM345 191h1v1h-1zM425 191h1v1h-1zM429 191h1v1h-1zM433 191h2v1h-2zM467 191h2v1h-2zM162 192h1v1h-1zM168 192h2v1h-2zM172 192h1v1h-1zM206 192h1v1h-1zM293 192h1v1h-1zM300 192h1v1h-1zM463 192h1v1h-1zM469 192h1v1h-1zM162 193h1v1h-1zM168 193h2v1h-2zM173 193h1v1h-1zM297 193h1v1h-1zM299 193h2v1h-2zM302 193h2v1h-2zM342 193h1v1h-1zM344 193h2v1h-2zM468 193h1v1h-1zM198 194h1v1h-1zM206 194h1v1h-1zM297 194h1v1h-1zM301 194h1v1h-1zM348 194h1v1h-1zM421 194h1v1h-1zM423 194h1v1h-1zM432 194h1v1h-1zM468 194h1v1h-1zM165 195h2v1h-2zM173 195h1v1h-1zM298 195h2v1h-2zM301 195h1v1h-1zM345 195h1v1h-1zM348 195h1v1h-1zM352 195h1v1h-1zM430 195h2v1h-2zM469 195h2v1h-2zM199 196h2v1h-2zM300 196h1v1h-1zM302 196h3v1h-3zM352 196h1v1h-1zM466 196h1v1h-1zM170 197h3v1h-3zM175 197h1v1h-1zM306 197h1v1h-1zM309 197h1v1h-1zM339 197h2v1h-2zM342 197h1v1h-1zM434 197h1v1h-1zM460 197h1v1h-1zM466 197h1v1h-1zM469 197h2v1h-2z"/>
<path fill="#888" d="M190 36h1v1h-1zM189 37h2v1h-2zM334 37h1v1h-1zM331 38h1v1h-1zM336 42h1v1h-1zM331 44h1v1h-1zM331 45h1v1h-1zM452 49h2v1h-2zM337 51h1v1h-1zM186 53h1v1h-1zM182 54h1v1h-1zM337 55h1v1h-1zM337 56h1v1h-1zM318 57h1v1h-1zM318 58h1v1h-1zM331 58h1v1h-1zM335 58h2v1h-2zM449 58h1v1h-1zM337 60h1v1h-1zM187 61h1v1h-1zM335 61h1v1h-1zM339 61h1v1h-1zM312 63h1v1h-1zM323 63h1v1h-1zM325 63h2v1h-2zM449 64h1v1h-1zM184 65h1v1h-1zM186 65h1v1h-1zM320 65h1v1h-1zM328 65h1v1h-1zM334 65h1v1h-1zM449 65h1v1h-1zM451 65h1v1h-1zM179 66h1v1h-1zM316 66h1v1h-1zM319 66h1v1h-1zM340 66h1v1h-1zM448 66h1v1h-1zM451 66h1v1h-1zM320 67h1v1h-1zM323 67h1v1h-1zM328 67h1v1h-1zM450 67h1v1h-1zM451 68h1v1h-1zM454 68h1v1h-1zM175 69h1v1h-1zM177 69h1v1h-1zM192 69h1v1h-1zM320 69h1v1h-1zM178 70h1v1h-1zM187 70h2v1h-2zM310 70h1v1h-1zM329 70h1v1h-1zM335 70h1v1h-1zM337 70h1v1h-1zM339 70h2v1h-2zM445 70h1v1h-1zM449 70h1v1h-1zM456 70h1v1h-1zM180 71h2v1h-2zM312 71h1v1h-1zM319 71h1v1h-1zM444 71h1v1h-1zM168 72h2v1h-2zM177 72h1v1h-1zM183 72h1v1h-1zM192 72h1v1h-1zM194 72h1v1h-1zM304 72h1v1h-1zM307 72h2v1h-2zM335 72h1v1h-1zM340 72h1v1h-1zM440 72h1v1h-1zM445 72h1v1h-1zM457 72h1v1h-1zM165 73h1v1h-1zM178 73h1v1h-1zM194 73h1v1h-1zM197 73h1v1h-1zM202 73h1v1h-1zM444 73h1v1h-1zM174 74h1v1h-1zM202 74h2v1h-2zM308 74h1v1h-1zM335 74h1v1h-1zM196 75h2v1h-2zM203 75h1v1h-1zM335 75h1v1h-1zM200 77h1v1h-1zM171 78h1v1h-1zM196 78h1v1h-1zM464 78h1v1h-1zM467 78h1v1h-1zM305 79h1v1h-1zM438 79h1v1h-1zM442 79h1v1h-1zM440 80h1v1h-1zM465 80h1v1h-1zM169 81h1v1h-1zM199 81h1v1h-1zM300 81h1v1h-1zM302 81h1v1h-1zM337 81h2v1h-2zM341 81h1v1h-1zM466 81h1v1h-1zM171 82h1v1h-1zM198 82h1v1h-1zM202 82h1v1h-1zM300 82h1v1h-1zM338 82h1v1h-1zM341 82h1v1h-1zM166 83h1v1h-1zM197 83h1v1h-1zM199 83h1v1h-1zM166 84h3v1h-3zM171 84h1v1h-1zM163 85h1v1h-1zM198 86h1v1h-1zM347 86h1v1h-1zM467 86h2v1h-2zM165 87h1v1h-1zM169 87h1v1h-1zM341 87h1v1h-1zM167 89h1v1h-1zM170 89h1v1h-1zM172 89h1v1h-1zM167 90h2v1h-2zM198 90h1v1h-1zM296 90h1v1h-1zM302 90h1v1h-1zM341 90h2v1h-2zM348 90h1v1h-1zM172 91h1v1h-1zM342 91h1v1h-1zM436 91h1v1h-1zM198 92h1v1h-1zM203 92h1v1h-1zM203 93h1v1h-1zM205 93h1v1h-1zM299 93h1v1h-1zM162 94h1v1h-1zM202 94h1v1h-1zM301 94h1v1h-1zM440 94h1v1h-1zM465 94h1v1h-1zM472 94h1v1h-1zM174 95h1v1h-1zM341 95h1v1h-1zM171 96h1v1h-1zM439 96h1v1h-1zM165 97h2v1h-2zM171 97h1v1h-1zM199 97h1v1h-1zM339 97h1v1h-1zM441 97h1v1h-1zM468 97h1v1h-1zM202 98h1v1h-1zM297 98h1v1h-1zM440 98h1v1h-1zM176 99h1v1h-1zM301 99h1v1h-1zM339 99h1v1h-1zM439 99h1v1h-1zM463 99h1v1h-1zM168 100h1v1h-1zM441 100h1v1h-1zM176 101h1v1h-1zM178 101h1v1h-1zM197 101h1v1h-1zM186 125h1v1h-1zM184 127h2v1h-2zM454 131h2v1h-2zM313 132h1v1h-1zM184 136h1v1h-1zM186 140h1v1h-1zM317 141h1v1h-1zM450 142h1v1h-1zM187 148h2v1h-2zM317 148h1v1h-1zM182 150h2v1h-2zM319 151h1v1h-1zM312 154h1v1h-1zM318 154h1v1h-1zM451 154h1v1h-1zM185 155h1v1h-1zM312 155h1v1h-1zM314 155h1v1h-1zM315 156h1v1h-1zM446 156h1v1h-1zM456 156h1v1h-1zM184 157h1v1h-1zM185 158h2v1h-2zM319 158h2v1h-2zM447 159h1v1h-1zM320 160h1v1h-1zM454 160h1v1h-1zM188 161h1v1h-1zM315 161h1v1h-1zM448 161h1v1h-1zM451 161h1v1h-1zM455 161h1v1h-1zM187 162h1v1h-1zM326 162h2v1h-2zM329 163h1v1h-1zM189 164h1v1h-1zM325 164h1v1h-1zM441 164h1v1h-1zM444 164h1v1h-1zM461 164h1v1h-1zM322 165h1v1h-1zM435 165h1v1h-1zM454 165h1v1h-1zM457 165h1v1h-1zM461 165h1v1h-1zM180 166h1v1h-1zM184 166h1v1h-1zM191 166h1v1h-1zM316 166h1v1h-1zM319 166h1v1h-1zM323 166h1v1h-1zM334 166h1v1h-1zM435 166h1v1h-1zM442 166h1v1h-1zM448 166h7v1h-7zM456 166h1v1h-1zM180 167h2v1h-2zM188 167h1v1h-1zM328 167h1v1h-1zM434 167h2v1h-2zM446 167h1v1h-1zM337 168h1v1h-1zM437 168h1v1h-1zM446 168h1v1h-1zM182 169h1v1h-1zM308 169h2v1h-2zM444 169h1v1h-1zM459 169h1v1h-1zM177 170h1v1h-1zM309 170h1v1h-1zM442 170h1v1h-1zM170 171h1v1h-1zM176 171h1v1h-1zM192 171h1v1h-1zM195 171h1v1h-1zM438 171h1v1h-1zM171 172h1v1h-1zM438 172h1v1h-1zM456 172h2v1h-2zM461 172h2v1h-2zM176 173h1v1h-1zM174 174h1v1h-1zM190 174h1v1h-1zM341 174h1v1h-1zM463 175h1v1h-1zM172 176h1v1h-1zM206 176h1v1h-1zM339 176h1v1h-1zM342 176h2v1h-2zM431 176h1v1h-1zM463 176h1v1h-1zM168 177h1v1h-1zM173 177h1v1h-1zM202 177h1v1h-1zM173 178h1v1h-1zM461 178h1v1h-1zM464 178h1v1h-1zM170 179h1v1h-1zM304 179h1v1h-1zM174 180h1v1h-1zM199 180h2v1h-2zM340 180h1v1h-1zM465 180h1v1h-1zM171 181h1v1h-1zM343 181h1v1h-1zM170 182h1v1h-1zM199 182h2v1h-2zM303 182h1v1h-1zM344 182h1v1h-1zM348 182h1v1h-1zM435 182h1v1h-1zM432 184h1v1h-1zM199 185h1v1h-1zM302 185h1v1h-1zM466 186h1v1h-1zM173 187h1v1h-1zM200 188h1v1h-1zM345 188h1v1h-1zM302 189h1v1h-1zM463 189h1v1h-1zM166 190h1v1h-1zM299 190h2v1h-2zM353 190h2v1h-2zM299 191h2v1h-2zM464 191h2v1h-2zM429 192h1v1h-1zM200 193h1v1h-1zM170 194h1v1h-1zM462 194h1v1h-1zM465 194h1v1h-1zM170 195h1v1h-1zM304 195h1v1h-1zM346 195h1v1h-1zM465 195h1v1h-1zM171 196h1v1h-1zM343 196h1v1h-1zM181 197h1v1h-1zM184 197h1v1h-1zM191 197h1v1h-1zM194 197h1v1h-1zM307 197h1v1h-1zM334 197h1v1h-1z"/>
<path fill="#444" d="M197 28h1v1h-1zM265 30h1v1h-1zM300 32h1v1h-1zM332 32h1v1h-1zM182 33h1v1h-1zM184 33h1v1h-1zM188 33h1v1h-1zM333 33h1v1h-1zM335 33h1v1h-1zM188 34h1v1h-1zM177 35h1v1h-1zM332 35h1v1h-1zM337 35h1v1h-1zM330 36h1v1h-1zM181 38h1v1h-1zM190 38h1v1h-1zM334 38h1v1h-1zM337 38h1v1h-1zM185 40h2v1h-2zM334 40h1v1h-1zM447 43h1v1h-1zM339 44h1v1h-1zM178 45h2v1h-2zM183 45h1v1h-1zM187 45h1v1h-1zM190 45h1v1h-1zM315 45h1v1h-1zM318 45h1v1h-1zM322 45h1v1h-1zM330 45h1v1h-1zM333 45h2v1h-2zM182 46h1v1h-1zM312 46h1v1h-1zM324 46h1v1h-1zM333 46h1v1h-1zM337 46h2v1h-2zM189 47h1v1h-1zM330 47h1v1h-1zM184 48h1v1h-1zM200 48h1v1h-1zM337 48h1v1h-1zM339 48h1v1h-1zM449 48h1v1h-1zM451 48h1v1h-1zM181 49h1v1h-1zM183 49h1v1h-1zM318 50h1v1h-1zM183 51h1v1h-1zM320 51h1v1h-1zM335 52h1v1h-1zM340 52h1v1h-1zM184 53h1v1h-1zM190 53h1v1h-1zM318 53h1v1h-1zM183 54h1v1h-1zM189 54h1v1h-1zM335 54h1v1h-1zM338 54h1v1h-1zM182 55h1v1h-1zM184 55h1v1h-1zM316 55h1v1h-1zM339 55h1v1h-1zM415 55h1v1h-1zM453 55h1v1h-1zM182 56h1v1h-1zM185 56h1v1h-1zM187 56h1v1h-1zM313 56h1v1h-1zM321 56h1v1h-1zM331 56h1v1h-1zM453 56h1v1h-1zM183 57h1v1h-1zM186 57h1v1h-1zM188 57h1v1h-1zM319 57h1v1h-1zM325 57h1v1h-1zM340 57h1v1h-1zM448 57h1v1h-1zM124 58h1v1h-1zM180 58h1v1h-1zM185 58h2v1h-2zM188 58h1v1h-1zM354 58h1v1h-1zM448 58h1v1h-1zM184 59h1v1h-1zM187 59h3v1h-3zM319 59h1v1h-1zM338 59h1v1h-1zM447 59h1v1h-1zM451 59h2v1h-2zM482 59h1v1h-1zM185 60h1v1h-1zM187 60h1v1h-1zM191 60h1v1h-1zM312 60h1v1h-1zM319 60h1v1h-1zM323 60h1v1h-1zM340 60h1v1h-1zM345 60h1v1h-1zM455 60h2v1h-2zM185 61h2v1h-2zM188 61h2v1h-2zM192 61h1v1h-1zM313 61h1v1h-1zM317 61h1v1h-1zM327 61h1v1h-1zM181 62h1v1h-1zM185 62h1v1h-1zM188 62h1v1h-1zM319 62h1v1h-1zM332 62h2v1h-2zM340 62h1v1h-1zM444 62h1v1h-1zM196 63h1v1h-1zM316 63h1v1h-1zM320 63h1v1h-1zM330 63h2v1h-2zM333 63h1v1h-1zM450 63h1v1h-1zM164 64h1v1h-1zM180 64h1v1h-1zM186 64h2v1h-2zM190 64h1v1h-1zM308 64h1v1h-1zM312 64h1v1h-1zM317 64h1v1h-1zM328 64h1v1h-1zM333 64h1v1h-1zM335 64h1v1h-1zM337 64h2v1h-2zM452 64h2v1h-2zM165 65h1v1h-1zM177 65h1v1h-1zM180 65h2v1h-2zM323 65h3v1h-3zM331 65h1v1h-1zM335 65h2v1h-2zM341 65h1v1h-1zM447 65h1v1h-1zM459 65h1v1h-1zM180 66h1v1h-1zM185 66h1v1h-1zM188 66h1v1h-1zM317 66h2v1h-2zM322 66h1v1h-1zM327 66h1v1h-1zM331 66h1v1h-1zM334 66h2v1h-2zM444 66h1v1h-1zM446 66h2v1h-2zM449 66h1v1h-1zM453 66h1v1h-1zM458 66h1v1h-1zM460 66h1v1h-1zM174 67h2v1h-2zM179 67h2v1h-2zM184 67h1v1h-1zM186 67h1v1h-1zM190 67h2v1h-2zM305 67h1v1h-1zM309 67h1v1h-1zM312 67h1v1h-1zM318 67h1v1h-1zM322 67h1v1h-1zM324 67h2v1h-2zM329 67h2v1h-2zM336 67h1v1h-1zM446 67h2v1h-2zM449 67h1v1h-1zM452 67h1v1h-1zM458 67h1v1h-1zM181 68h1v1h-1zM191 68h1v1h-1zM193 68h2v1h-2zM312 68h3v1h-3zM318 68h1v1h-1zM325 68h1v1h-1zM329 68h1v1h-1zM332 68h1v1h-1zM339 68h1v1h-1zM448 68h1v1h-1zM452 68h1v1h-1zM455 68h2v1h-2zM459 68h1v1h-1zM174 69h1v1h-1zM176 69h1v1h-1zM179 69h1v1h-1zM184 69h1v1h-1zM190 69h1v1h-1zM203 69h1v1h-1zM206 69h1v1h-1zM302 69h1v1h-1zM309 69h1v1h-1zM319 69h1v1h-1zM321 69h2v1h-2zM324 69h2v1h-2zM327 69h3v1h-3zM336 69h1v1h-1zM339 69h1v1h-1zM342 69h1v1h-1zM347 69h1v1h-1zM452 69h1v1h-1zM456 69h2v1h-2zM461 69h1v1h-1zM465 69h1v1h-1zM164 70h1v1h-1zM168 70h1v1h-1zM175 70h1v1h-1zM186 70h1v1h-1zM192 70h1v1h-1zM194 70h1v1h-1zM206 70h1v1h-1zM302 70h1v1h-1zM311 70h2v1h-2zM318 70h1v1h-1zM320 70h1v1h-1zM327 70h1v1h-1zM331 70h1v1h-1zM436 70h1v1h-1zM447 70h1v1h-1zM450 70h1v1h-1zM462 70h2v1h-2zM170 71h1v1h-1zM179 71h1v1h-1zM187 71h1v1h-1zM196 71h1v1h-1zM200 71h1v1h-1zM295 71h1v1h-1zM304 71h1v1h-1zM321 71h1v1h-1zM323 71h1v1h-1zM329 71h2v1h-2zM447 71h2v1h-2zM455 71h2v1h-2zM460 71h1v1h-1zM180 72h1v1h-1zM184 72h2v1h-2zM188 72h1v1h-1zM303 72h1v1h-1zM313 72h1v1h-1zM334 72h1v1h-1zM336 72h1v1h-1zM444 72h1v1h-1zM460 72h2v1h-2zM464 72h1v1h-1zM469 72h1v1h-1zM171 73h1v1h-1zM175 73h1v1h-1zM180 73h2v1h-2zM195 73h1v1h-1zM304 73h1v1h-1zM307 73h1v1h-1zM323 73h1v1h-1zM330 73h2v1h-2zM334 73h1v1h-1zM342 73h1v1h-1zM439 73h1v1h-1zM462 73h3v1h-3zM170 74h1v1h-1zM179 74h1v1h-1zM194 74h1v1h-1zM197 74h1v1h-1zM302 74h1v1h-1zM306 74h1v1h-1zM310 74h1v1h-1zM333 74h2v1h-2zM339 74h1v1h-1zM346 74h1v1h-1zM419 74h1v1h-1zM442 74h1v1h-1zM445 74h1v1h-1zM447 74h1v1h-1zM457 74h1v1h-1zM462 74h4v1h-4zM168 75h1v1h-1zM174 75h1v1h-1zM189 75h1v1h-1zM303 75h2v1h-2zM308 75h1v1h-1zM333 75h1v1h-1zM336 75h1v1h-1zM338 75h1v1h-1zM341 75h1v1h-1zM438 75h1v1h-1zM441 75h1v1h-1zM461 75h1v1h-1zM173 76h3v1h-3zM193 76h1v1h-1zM196 76h1v1h-1zM198 76h1v1h-1zM200 76h1v1h-1zM298 76h1v1h-1zM300 76h2v1h-2zM303 76h3v1h-3zM308 76h1v1h-1zM333 76h1v1h-1zM338 76h2v1h-2zM437 76h1v1h-1zM442 76h2v1h-2zM465 76h1v1h-1zM170 77h1v1h-1zM173 77h3v1h-3zM182 77h1v1h-1zM193 77h1v1h-1zM198 77h2v1h-2zM302 77h1v1h-1zM305 77h1v1h-1zM333 77h1v1h-1zM335 77h1v1h-1zM342 77h1v1h-1zM346 77h1v1h-1zM433 77h1v1h-1zM436 77h1v1h-1zM441 77h2v1h-2zM464 77h1v1h-1zM470 77h1v1h-1zM170 78h1v1h-1zM174 78h1v1h-1zM176 78h1v1h-1zM192 78h1v1h-1zM198 78h3v1h-3zM299 78h1v1h-1zM301 78h3v1h-3zM305 78h1v1h-1zM337 78h2v1h-2zM436 78h2v1h-2zM442 78h1v1h-1zM461 78h1v1h-1zM474 78h1v1h-1zM166 79h1v1h-1zM169 79h2v1h-2zM175 79h1v1h-1zM199 79h1v1h-1zM203 79h1v1h-1zM212 79h1v1h-1zM296 79h1v1h-1zM300 79h2v1h-2zM341 79h1v1h-1zM429 79h1v1h-1zM435 79h1v1h-1zM462 79h2v1h-2zM170 80h1v1h-1zM172 80h2v1h-2zM197 80h2v1h-2zM201 80h1v1h-1zM203 80h1v1h-1zM205 80h1v1h-1zM302 80h1v1h-1zM337 80h1v1h-1zM343 80h1v1h-1zM346 80h1v1h-1zM426 80h1v1h-1zM466 80h1v1h-1zM469 80h2v1h-2zM472 80h1v1h-1zM157 81h1v1h-1zM165 81h1v1h-1zM172 81h1v1h-1zM194 81h1v1h-1zM200 81h1v1h-1zM202 81h1v1h-1zM210 81h1v1h-1zM296 81h2v1h-2zM299 81h1v1h-1zM342 81h2v1h-2zM346 81h1v1h-1zM437 81h1v1h-1zM439 81h1v1h-1zM441 81h2v1h-2zM465 81h1v1h-1zM468 81h1v1h-1zM470 81h1v1h-1zM168 82h1v1h-1zM170 82h1v1h-1zM197 82h1v1h-1zM199 82h1v1h-1zM207 82h1v1h-1zM292 82h1v1h-1zM306 82h1v1h-1zM339 82h1v1h-1zM342 82h2v1h-2zM345 82h1v1h-1zM348 82h1v1h-1zM465 82h1v1h-1zM467 82h1v1h-1zM168 83h1v1h-1zM171 83h1v1h-1zM196 83h1v1h-1zM201 83h1v1h-1zM203 83h1v1h-1zM299 83h6v1h-6zM339 83h2v1h-2zM432 83h1v1h-1zM437 83h1v1h-1zM439 83h3v1h-3zM465 83h1v1h-1zM470 83h1v1h-1zM164 84h2v1h-2zM169 84h1v1h-1zM198 84h1v1h-1zM202 84h1v1h-1zM290 84h1v1h-1zM297 84h1v1h-1zM303 84h1v1h-1zM339 84h1v1h-1zM392 84h1v1h-1zM435 84h1v1h-1zM438 84h1v1h-1zM465 84h1v1h-1zM467 84h2v1h-2zM472 84h1v1h-1zM150 85h1v1h-1zM164 85h1v1h-1zM174 85h1v1h-1zM199 85h1v1h-1zM202 85h1v1h-1zM210 85h1v1h-1zM286 85h2v1h-2zM302 85h1v1h-1zM343 85h2v1h-2zM348 85h1v1h-1zM430 85h1v1h-1zM437 85h1v1h-1zM465 85h2v1h-2zM163 86h1v1h-1zM167 86h2v1h-2zM200 86h2v1h-2zM206 86h1v1h-1zM298 86h1v1h-1zM303 86h1v1h-1zM342 86h1v1h-1zM476 86h1v1h-1zM167 87h2v1h-2zM171 87h2v1h-2zM200 87h1v1h-1zM204 87h1v1h-1zM298 87h2v1h-2zM301 87h1v1h-1zM338 87h1v1h-1zM353 87h1v1h-1zM436 87h2v1h-2zM442 87h1v1h-1zM163 88h1v1h-1zM167 88h1v1h-1zM197 88h1v1h-1zM200 88h1v1h-1zM279 88h1v1h-1zM295 88h1v1h-1zM297 88h4v1h-4zM341 88h2v1h-2zM437 88h1v1h-1zM439 88h1v1h-1zM441 88h1v1h-1zM168 89h1v1h-1zM173 89h1v1h-1zM207 89h1v1h-1zM219 89h1v1h-1zM298 89h1v1h-1zM301 89h1v1h-1zM340 89h2v1h-2zM428 89h1v1h-1zM439 89h1v1h-1zM469 89h1v1h-1zM471 89h1v1h-1zM166 90h1v1h-1zM169 90h1v1h-1zM199 90h1v1h-1zM201 90h1v1h-1zM205 90h1v1h-1zM299 90h1v1h-1zM343 90h1v1h-1zM429 90h1v1h-1zM437 90h1v1h-1zM439 90h1v1h-1zM469 90h1v1h-1zM478 90h1v1h-1zM152 91h1v1h-1zM175 91h1v1h-1zM198 91h1v1h-1zM201 91h1v1h-1zM203 91h1v1h-1zM205 91h1v1h-1zM291 91h1v1h-1zM298 91h1v1h-1zM302 91h1v1h-1zM350 91h1v1h-1zM429 91h1v1h-1zM439 91h1v1h-1zM165 92h1v1h-1zM168 92h2v1h-2zM171 92h1v1h-1zM199 92h2v1h-2zM202 92h1v1h-1zM204 92h1v1h-1zM209 92h1v1h-1zM294 92h1v1h-1zM298 92h3v1h-3zM342 92h1v1h-1zM345 92h1v1h-1zM348 92h1v1h-1zM350 92h1v1h-1zM439 92h1v1h-1zM441 92h1v1h-1zM467 92h1v1h-1zM472 92h1v1h-1zM481 92h1v1h-1zM159 93h1v1h-1zM168 93h1v1h-1zM199 93h2v1h-2zM202 93h1v1h-1zM206 93h1v1h-1zM297 93h1v1h-1zM303 93h1v1h-1zM344 93h1v1h-1zM351 93h1v1h-1zM468 93h1v1h-1zM167 94h1v1h-1zM170 94h2v1h-2zM173 94h1v1h-1zM200 94h2v1h-2zM206 94h1v1h-1zM280 94h1v1h-1zM298 94h1v1h-1zM300 94h1v1h-1zM302 94h1v1h-1zM343 94h1v1h-1zM478 94h1v1h-1zM161 95h1v1h-1zM172 95h1v1h-1zM196 95h1v1h-1zM198 95h4v1h-4zM203 95h1v1h-1zM296 95h1v1h-1zM301 95h1v1h-1zM340 95h1v1h-1zM343 95h1v1h-1zM440 95h1v1h-1zM466 95h1v1h-1zM474 95h1v1h-1zM163 96h1v1h-1zM196 96h1v1h-1zM198 96h1v1h-1zM200 96h1v1h-1zM202 96h1v1h-1zM205 96h2v1h-2zM292 96h1v1h-1zM298 96h1v1h-1zM301 96h1v1h-1zM304 96h1v1h-1zM336 96h1v1h-1zM340 96h1v1h-1zM343 96h1v1h-1zM173 97h1v1h-1zM200 97h1v1h-1zM202 97h1v1h-1zM298 97h1v1h-1zM302 97h1v1h-1zM341 97h1v1h-1zM465 97h1v1h-1zM472 97h1v1h-1zM167 98h1v1h-1zM171 98h1v1h-1zM175 98h1v1h-1zM199 98h2v1h-2zM296 98h1v1h-1zM301 98h1v1h-1zM342 98h1v1h-1zM345 98h1v1h-1zM435 98h1v1h-1zM441 98h1v1h-1zM461 98h1v1h-1zM463 98h1v1h-1zM465 98h1v1h-1zM479 98h1v1h-1zM170 99h3v1h-3zM177 99h1v1h-1zM198 99h1v1h-1zM200 99h2v1h-2zM286 99h1v1h-1zM297 99h1v1h-1zM299 99h1v1h-1zM302 99h2v1h-2zM341 99h3v1h-3zM440 99h2v1h-2zM468 99h1v1h-1zM169 100h1v1h-1zM171 100h1v1h-1zM173 100h1v1h-1zM175 100h1v1h-1zM177 100h1v1h-1zM198 100h1v1h-1zM296 100h1v1h-1zM304 100h1v1h-1zM339 100h4v1h-4zM356 100h1v1h-1zM438 100h1v1h-1zM444 100h1v1h-1zM462 100h1v1h-1zM464 100h1v1h-1zM478 100h1v1h-1zM177 101h1v1h-1zM179 101h1v1h-1zM181 101h1v1h-1zM184 101h1v1h-1zM188 101h3v1h-3zM193 101h1v1h-1zM196 101h1v1h-1zM198 101h1v1h-1zM301 101h1v1h-1zM304 101h1v1h-1zM307 101h1v1h-1zM310 101h1v1h-1zM314 101h1v1h-1zM332 101h1v1h-1zM335 101h3v1h-3zM343 101h1v1h-1zM439 101h1v1h-1zM441 101h1v1h-1zM443 101h1v1h-1zM445 101h2v1h-2zM450 101h1v1h-1zM452 101h3v1h-3zM456 101h1v1h-1zM469 101h1v1h-1zM447 123h3v1h-3zM454 123h2v1h-2zM186 124h1v1h-1zM187 125h1v1h-1zM447 125h1v1h-1zM190 126h1v1h-1zM444 126h1v1h-1zM446 126h1v1h-1zM160 127h1v1h-1zM439 127h1v1h-1zM442 127h1v1h-1zM184 128h1v1h-1zM187 128h1v1h-1zM318 128h1v1h-1zM180 129h1v1h-1zM186 129h2v1h-2zM449 129h1v1h-1zM455 129h1v1h-1zM187 130h1v1h-1zM313 130h1v1h-1zM315 130h2v1h-2zM448 130h1v1h-1zM179 131h1v1h-1zM313 131h1v1h-1zM319 131h1v1h-1zM320 132h1v1h-1zM446 132h1v1h-1zM464 132h1v1h-1zM131 133h1v1h-1zM185 133h1v1h-1zM319 133h1v1h-1zM458 133h1v1h-1zM317 134h1v1h-1zM321 134h1v1h-1zM440 134h1v1h-1zM444 134h2v1h-2zM453 134h1v1h-1zM180 135h1v1h-1zM212 135h1v1h-1zM315 135h1v1h-1zM179 136h1v1h-1zM447 136h1v1h-1zM456 136h1v1h-1zM317 137h1v1h-1zM449 137h2v1h-2zM454 137h1v1h-1zM456 137h1v1h-1zM459 137h1v1h-1zM188 138h1v1h-1zM311 138h1v1h-1zM320 138h1v1h-1zM445 138h1v1h-1zM450 138h1v1h-1zM184 139h1v1h-1zM442 139h2v1h-2zM187 140h1v1h-1zM320 140h1v1h-1zM438 140h1v1h-1zM454 140h1v1h-1zM188 141h1v1h-1zM316 141h1v1h-1zM180 142h1v1h-1zM316 142h1v1h-1zM457 142h1v1h-1zM184 143h2v1h-2zM187 143h3v1h-3zM443 143h1v1h-1zM449 143h1v1h-1zM179 144h1v1h-1zM312 144h1v1h-1zM332 144h1v1h-1zM445 144h2v1h-2zM451 144h1v1h-1zM454 144h1v1h-1zM183 145h1v1h-1zM186 145h1v1h-1zM188 145h1v1h-1zM314 145h1v1h-1zM316 145h1v1h-1zM320 145h1v1h-1zM442 145h1v1h-1zM447 145h1v1h-1zM452 145h1v1h-1zM454 145h2v1h-2zM182 146h1v1h-1zM184 146h1v1h-1zM189 146h1v1h-1zM315 146h1v1h-1zM318 146h1v1h-1zM440 146h1v1h-1zM445 146h1v1h-1zM453 146h1v1h-1zM456 146h1v1h-1zM188 147h1v1h-1zM313 147h2v1h-2zM319 147h1v1h-1zM328 147h1v1h-1zM444 147h1v1h-1zM453 147h1v1h-1zM446 148h1v1h-1zM450 148h1v1h-1zM453 148h1v1h-1zM456 148h2v1h-2zM187 149h1v1h-1zM314 149h1v1h-1zM448 149h1v1h-1zM457 149h1v1h-1zM179 150h1v1h-1zM451 150h1v1h-1zM184 151h1v1h-1zM455 151h1v1h-1zM180 152h1v1h-1zM183 152h1v1h-1zM319 152h1v1h-1zM455 152h1v1h-1zM182 153h1v1h-1zM184 153h1v1h-1zM186 153h1v1h-1zM313 153h1v1h-1zM326 153h1v1h-1zM437 153h1v1h-1zM449 153h1v1h-1zM451 153h1v1h-1zM182 154h1v1h-1zM185 154h1v1h-1zM446 154h1v1h-1zM448 154h1v1h-1zM452 154h1v1h-1zM454 154h1v1h-1zM184 155h1v1h-1zM188 155h2v1h-2zM192 155h1v1h-1zM446 155h2v1h-2zM184 156h1v1h-1zM189 156h1v1h-1zM327 156h1v1h-1zM447 156h1v1h-1zM451 156h1v1h-1zM318 157h1v1h-1zM332 157h1v1h-1zM397 157h1v1h-1zM448 157h1v1h-1zM456 157h1v1h-1zM198 158h1v1h-1zM316 158h1v1h-1zM318 158h1v1h-1zM323 158h1v1h-1zM442 158h2v1h-2zM445 158h1v1h-1zM179 159h1v1h-1zM182 159h1v1h-1zM184 159h1v1h-1zM189 159h1v1h-1zM319 159h1v1h-1zM329 159h1v1h-1zM445 159h1v1h-1zM448 159h2v1h-2zM451 159h1v1h-1zM454 159h1v1h-1zM183 160h1v1h-1zM187 160h2v1h-2zM192 160h1v1h-1zM196 160h1v1h-1zM314 160h1v1h-1zM316 160h3v1h-3zM438 160h1v1h-1zM447 160h2v1h-2zM456 160h1v1h-1zM176 161h2v1h-2zM180 161h1v1h-1zM184 161h1v1h-1zM186 161h2v1h-2zM312 161h2v1h-2zM317 161h2v1h-2zM322 161h1v1h-1zM325 161h2v1h-2zM329 161h1v1h-1zM452 161h1v1h-1zM178 162h3v1h-3zM183 162h2v1h-2zM188 162h2v1h-2zM309 162h1v1h-1zM312 162h1v1h-1zM315 162h2v1h-2zM322 162h2v1h-2zM331 162h1v1h-1zM439 162h1v1h-1zM443 162h1v1h-1zM445 162h2v1h-2zM448 162h1v1h-1zM450 162h1v1h-1zM454 162h1v1h-1zM167 163h1v1h-1zM181 163h1v1h-1zM185 163h1v1h-1zM188 163h2v1h-2zM192 163h1v1h-1zM311 163h1v1h-1zM316 163h1v1h-1zM318 163h1v1h-1zM323 163h1v1h-1zM326 163h1v1h-1zM328 163h1v1h-1zM332 163h1v1h-1zM338 163h1v1h-1zM443 163h1v1h-1zM448 163h1v1h-1zM450 163h1v1h-1zM455 163h1v1h-1zM460 163h1v1h-1zM183 164h1v1h-1zM185 164h3v1h-3zM190 164h1v1h-1zM192 164h1v1h-1zM311 164h2v1h-2zM314 164h1v1h-1zM320 164h1v1h-1zM324 164h1v1h-1zM327 164h2v1h-2zM330 164h1v1h-1zM332 164h1v1h-1zM334 164h2v1h-2zM440 164h1v1h-1zM442 164h1v1h-1zM449 164h3v1h-3zM453 164h1v1h-1zM455 164h1v1h-1zM459 164h1v1h-1zM464 164h1v1h-1zM169 165h1v1h-1zM172 165h1v1h-1zM179 165h1v1h-1zM198 165h1v1h-1zM312 165h2v1h-2zM320 165h2v1h-2zM327 165h2v1h-2zM331 165h1v1h-1zM440 165h1v1h-1zM443 165h1v1h-1zM456 165h1v1h-1zM458 165h1v1h-1zM172 166h1v1h-1zM175 166h2v1h-2zM185 166h2v1h-2zM197 166h1v1h-1zM311 166h1v1h-1zM313 166h1v1h-1zM322 166h1v1h-1zM324 166h1v1h-1zM328 166h1v1h-1zM330 166h2v1h-2zM333 166h1v1h-1zM443 166h1v1h-1zM445 166h2v1h-2zM455 166h1v1h-1zM457 166h1v1h-1zM183 167h1v1h-1zM185 167h1v1h-1zM191 167h1v1h-1zM194 167h1v1h-1zM314 167h1v1h-1zM323 167h1v1h-1zM330 167h2v1h-2zM336 167h3v1h-3zM441 167h2v1h-2zM444 167h2v1h-2zM447 167h1v1h-1zM454 167h1v1h-1zM182 168h1v1h-1zM184 168h1v1h-1zM186 168h1v1h-1zM190 168h2v1h-2zM194 168h1v1h-1zM197 168h3v1h-3zM202 168h1v1h-1zM309 168h1v1h-1zM311 168h1v1h-1zM314 168h3v1h-3zM350 168h1v1h-1zM427 168h1v1h-1zM441 168h1v1h-1zM444 168h1v1h-1zM447 168h1v1h-1zM449 168h1v1h-1zM451 168h1v1h-1zM453 168h4v1h-4zM165 169h1v1h-1zM176 169h2v1h-2zM179 169h2v1h-2zM183 169h1v1h-1zM187 169h1v1h-1zM197 169h1v1h-1zM293 169h1v1h-1zM311 169h6v1h-6zM333 169h1v1h-1zM337 169h1v1h-1zM345 169h1v1h-1zM437 169h3v1h-3zM441 169h1v1h-1zM445 169h3v1h-3zM450 169h2v1h-2zM473 169h1v1h-1zM173 170h1v1h-1zM176 170h1v1h-1zM178 170h1v1h-1zM180 170h1v1h-1zM185 170h1v1h-1zM187 170h3v1h-3zM191 170h1v1h-1zM193 170h1v1h-1zM197 170h1v1h-1zM306 170h1v1h-1zM308 170h1v1h-1zM310 170h1v1h-1zM312 170h1v1h-1zM339 170h1v1h-1zM434 170h4v1h-4zM439 170h1v1h-1zM441 170h1v1h-1zM443 170h1v1h-1zM451 170h3v1h-3zM455 170h1v1h-1zM459 170h1v1h-1zM463 170h1v1h-1zM175 171h1v1h-1zM177 171h1v1h-1zM196 171h1v1h-1zM199 171h1v1h-1zM303 171h1v1h-1zM306 171h1v1h-1zM308 171h1v1h-1zM310 171h1v1h-1zM337 171h2v1h-2zM418 171h1v1h-1zM436 171h1v1h-1zM439 171h1v1h-1zM442 171h1v1h-1zM445 171h2v1h-2zM459 171h1v1h-1zM464 171h2v1h-2zM177 172h1v1h-1zM180 172h1v1h-1zM196 172h2v1h-2zM199 172h1v1h-1zM206 172h1v1h-1zM298 172h1v1h-1zM303 172h1v1h-1zM306 172h2v1h-2zM309 172h1v1h-1zM313 172h1v1h-1zM400 172h1v1h-1zM434 172h1v1h-1zM442 172h1v1h-1zM470 172h1v1h-1zM166 173h1v1h-1zM168 173h1v1h-1zM172 173h1v1h-1zM193 173h1v1h-1zM195 173h2v1h-2zM201 173h2v1h-2zM215 173h1v1h-1zM306 173h2v1h-2zM337 173h1v1h-1zM339 173h2v1h-2zM346 173h1v1h-1zM422 173h1v1h-1zM430 173h1v1h-1zM434 173h2v1h-2zM460 173h1v1h-1zM462 173h1v1h-1zM166 174h1v1h-1zM172 174h2v1h-2zM196 174h1v1h-1zM198 174h1v1h-1zM202 174h1v1h-1zM308 174h1v1h-1zM434 174h2v1h-2zM458 174h1v1h-1zM167 175h1v1h-1zM170 175h1v1h-1zM200 175h1v1h-1zM203 175h1v1h-1zM294 175h1v1h-1zM306 175h1v1h-1zM341 175h2v1h-2zM352 175h1v1h-1zM432 175h1v1h-1zM435 175h1v1h-1zM176 176h1v1h-1zM198 176h1v1h-1zM205 176h1v1h-1zM303 176h1v1h-1zM305 176h1v1h-1zM341 176h1v1h-1zM429 176h1v1h-1zM469 176h1v1h-1zM157 177h1v1h-1zM159 177h1v1h-1zM165 177h2v1h-2zM175 177h1v1h-1zM205 177h1v1h-1zM299 177h1v1h-1zM304 177h1v1h-1zM307 177h1v1h-1zM340 177h1v1h-1zM343 177h1v1h-1zM346 177h1v1h-1zM431 177h1v1h-1zM435 177h2v1h-2zM460 177h1v1h-1zM462 177h1v1h-1zM471 177h1v1h-1zM169 178h2v1h-2zM175 178h1v1h-1zM341 178h1v1h-1zM434 178h2v1h-2zM460 178h1v1h-1zM463 178h1v1h-1zM472 178h1v1h-1zM165 179h1v1h-1zM169 179h1v1h-1zM174 179h1v1h-1zM199 179h1v1h-1zM283 179h1v1h-1zM301 179h2v1h-2zM347 179h2v1h-2zM437 179h1v1h-1zM465 179h1v1h-1zM168 180h1v1h-1zM198 180h1v1h-1zM299 180h1v1h-1zM343 180h1v1h-1zM423 180h1v1h-1zM425 180h1v1h-1zM433 180h1v1h-1zM435 180h1v1h-1zM437 180h1v1h-1zM173 181h1v1h-1zM303 181h1v1h-1zM341 181h1v1h-1zM348 181h1v1h-1zM429 181h1v1h-1zM433 181h1v1h-1zM435 181h1v1h-1zM466 181h2v1h-2zM474 181h1v1h-1zM201 182h2v1h-2zM205 182h1v1h-1zM343 182h1v1h-1zM345 182h1v1h-1zM429 182h1v1h-1zM434 182h1v1h-1zM465 182h2v1h-2zM165 183h1v1h-1zM169 183h2v1h-2zM177 183h1v1h-1zM198 183h3v1h-3zM202 183h1v1h-1zM284 183h1v1h-1zM300 183h2v1h-2zM303 183h1v1h-1zM342 183h1v1h-1zM345 183h1v1h-1zM425 183h1v1h-1zM436 183h1v1h-1zM464 183h1v1h-1zM168 184h2v1h-2zM175 184h1v1h-1zM199 184h3v1h-3zM297 184h1v1h-1zM300 184h1v1h-1zM346 184h1v1h-1zM431 184h1v1h-1zM463 184h1v1h-1zM162 185h1v1h-1zM167 185h1v1h-1zM170 185h1v1h-1zM172 185h1v1h-1zM287 185h1v1h-1zM342 185h3v1h-3zM433 185h2v1h-2zM465 185h1v1h-1zM481 185h1v1h-1zM166 186h1v1h-1zM171 186h1v1h-1zM175 186h1v1h-1zM198 186h1v1h-1zM206 186h1v1h-1zM296 186h1v1h-1zM299 186h2v1h-2zM303 186h1v1h-1zM344 186h1v1h-1zM431 186h3v1h-3zM435 186h1v1h-1zM464 186h2v1h-2zM157 187h1v1h-1zM165 187h1v1h-1zM167 187h1v1h-1zM169 187h2v1h-2zM172 187h1v1h-1zM174 187h1v1h-1zM200 187h1v1h-1zM210 187h1v1h-1zM303 187h1v1h-1zM306 187h1v1h-1zM340 187h1v1h-1zM342 187h1v1h-1zM428 187h1v1h-1zM431 187h2v1h-2zM465 187h1v1h-1zM475 187h1v1h-1zM173 188h1v1h-1zM202 188h1v1h-1zM291 188h1v1h-1zM296 188h1v1h-1zM342 188h1v1h-1zM346 188h1v1h-1zM430 188h2v1h-2zM433 188h1v1h-1zM464 188h2v1h-2zM468 188h1v1h-1zM166 189h1v1h-1zM169 189h1v1h-1zM197 189h1v1h-1zM199 189h1v1h-1zM202 189h1v1h-1zM286 189h1v1h-1zM298 189h1v1h-1zM301 189h1v1h-1zM305 189h1v1h-1zM341 189h1v1h-1zM343 189h1v1h-1zM345 189h1v1h-1zM431 189h1v1h-1zM435 189h1v1h-1zM466 189h1v1h-1zM470 189h1v1h-1zM169 190h3v1h-3zM200 190h1v1h-1zM202 190h1v1h-1zM206 190h1v1h-1zM297 190h1v1h-1zM302 190h2v1h-2zM340 190h1v1h-1zM342 190h2v1h-2zM345 190h1v1h-1zM348 190h1v1h-1zM431 190h1v1h-1zM434 190h1v1h-1zM464 190h1v1h-1zM176 191h1v1h-1zM201 191h1v1h-1zM305 191h1v1h-1zM344 191h1v1h-1zM346 191h1v1h-1zM430 191h1v1h-1zM432 191h1v1h-1zM463 191h1v1h-1zM470 191h1v1h-1zM166 192h1v1h-1zM170 192h1v1h-1zM173 192h2v1h-2zM199 192h2v1h-2zM202 192h1v1h-1zM232 192h1v1h-1zM302 192h1v1h-1zM304 192h2v1h-2zM342 192h1v1h-1zM344 192h1v1h-1zM350 192h1v1h-1zM430 192h1v1h-1zM433 192h1v1h-1zM462 192h1v1h-1zM464 192h3v1h-3zM468 192h1v1h-1zM167 193h1v1h-1zM170 193h1v1h-1zM175 193h1v1h-1zM199 193h1v1h-1zM206 193h1v1h-1zM295 193h1v1h-1zM304 193h1v1h-1zM341 193h1v1h-1zM349 193h1v1h-1zM429 193h1v1h-1zM432 193h1v1h-1zM460 193h1v1h-1zM471 193h1v1h-1zM168 194h2v1h-2zM175 194h1v1h-1zM195 194h1v1h-1zM199 194h1v1h-1zM202 194h1v1h-1zM300 194h1v1h-1zM305 194h3v1h-3zM340 194h1v1h-1zM342 194h1v1h-1zM422 194h1v1h-1zM427 194h1v1h-1zM433 194h1v1h-1zM436 194h1v1h-1zM169 195h1v1h-1zM175 195h1v1h-1zM179 195h1v1h-1zM197 195h1v1h-1zM199 195h1v1h-1zM305 195h1v1h-1zM339 195h1v1h-1zM429 195h1v1h-1zM463 195h2v1h-2zM167 196h1v1h-1zM169 196h2v1h-2zM173 196h2v1h-2zM179 196h1v1h-1zM195 196h1v1h-1zM198 196h1v1h-1zM297 196h1v1h-1zM299 196h1v1h-1zM307 196h1v1h-1zM341 196h2v1h-2zM346 196h1v1h-1zM431 196h1v1h-1zM435 196h1v1h-1zM462 196h2v1h-2zM465 196h1v1h-1zM469 196h1v1h-1zM472 196h1v1h-1zM162 197h1v1h-1zM173 197h2v1h-2zM177 197h3v1h-3zM182 197h2v1h-2zM185 197h1v1h-1zM190 197h1v1h-1zM193 197h1v1h-1zM196 197h1v1h-1zM310 197h1v1h-1zM336 197h1v1h-1zM338 197h1v1h-1zM423 197h1v1h-1zM428 197h1v1h-1zM436 197h2v1h-2zM439 197h2v1h-2zM461 197h1v1h-1z"/>
<path fill="#000" d="M334 36h1v1h-1zM188 38h1v1h-1zM335 46h1v1h-1zM318 49h1v1h-1zM187 51h1v1h-1zM185 52h1v1h-1zM332 52h1v1h-1zM185 53h1v1h-1zM340 53h1v1h-1zM183 55h1v1h-1zM336 57h1v1h-1zM185 59h1v1h-1zM329 59h1v1h-1zM184 60h1v1h-1zM451 60h1v1h-1zM453 60h1v1h-1zM183 63h1v1h-1zM321 63h1v1h-1zM181 64h1v1h-1zM319 64h1v1h-1zM321 64h1v1h-1zM188 65h1v1h-1zM190 65h1v1h-1zM315 65h1v1h-1zM184 66h1v1h-1zM186 66h2v1h-2zM311 66h1v1h-1zM314 66h1v1h-1zM336 66h1v1h-1zM450 66h1v1h-1zM182 67h2v1h-2zM187 67h2v1h-2zM315 67h3v1h-3zM321 67h1v1h-1zM326 67h1v1h-1zM331 67h2v1h-2zM335 67h1v1h-1zM179 68h2v1h-2zM182 68h9v1h-9zM309 68h1v1h-1zM315 68h1v1h-1zM317 68h1v1h-1zM321 68h4v1h-4zM328 68h1v1h-1zM331 68h1v1h-1zM333 68h2v1h-2zM336 68h3v1h-3zM449 68h2v1h-2zM453 68h1v1h-1zM458 68h1v1h-1zM180 69h4v1h-4zM185 69h5v1h-5zM191 69h1v1h-1zM308 69h1v1h-1zM311 69h8v1h-8zM323 69h1v1h-1zM326 69h1v1h-1zM330 69h6v1h-6zM337 69h2v1h-2zM340 69h1v1h-1zM447 69h1v1h-1zM449 69h3v1h-3zM453 69h3v1h-3zM458 69h1v1h-1zM176 70h1v1h-1zM179 70h4v1h-4zM184 70h2v1h-2zM189 70h1v1h-1zM193 70h1v1h-1zM306 70h1v1h-1zM313 70h5v1h-5zM319 70h1v1h-1zM321 70h6v1h-6zM328 70h1v1h-1zM332 70h3v1h-3zM444 70h1v1h-1zM451 70h1v1h-1zM453 70h3v1h-3zM178 71h1v1h-1zM182 71h1v1h-1zM184 71h3v1h-3zM189 71h1v1h-1zM194 71h1v1h-1zM313 71h6v1h-6zM320 71h1v1h-1zM322 71h1v1h-1zM324 71h3v1h-3zM331 71h1v1h-1zM445 71h2v1h-2zM449 71h3v1h-3zM453 71h2v1h-2zM176 72h1v1h-1zM181 72h2v1h-2zM186 72h2v1h-2zM189 72h2v1h-2zM195 72h1v1h-1zM310 72h2v1h-2zM314 72h18v1h-18zM333 72h1v1h-1zM446 72h11v1h-11zM458 72h2v1h-2zM176 73h2v1h-2zM182 73h12v1h-12zM196 73h1v1h-1zM306 73h1v1h-1zM311 73h12v1h-12zM324 73h6v1h-6zM333 73h1v1h-1zM443 73h1v1h-1zM446 73h16v1h-16zM176 74h3v1h-3zM180 74h14v1h-14zM196 74h1v1h-1zM307 74h1v1h-1zM309 74h1v1h-1zM311 74h22v1h-22zM337 74h1v1h-1zM443 74h2v1h-2zM446 74h1v1h-1zM448 74h9v1h-9zM458 74h4v1h-4zM177 75h12v1h-12zM190 75h6v1h-6zM306 75h2v1h-2zM309 75h24v1h-24zM334 75h1v1h-1zM442 75h1v1h-1zM444 75h17v1h-17zM462 75h3v1h-3zM176 76h17v1h-17zM194 76h2v1h-2zM197 76h1v1h-1zM199 76h1v1h-1zM302 76h1v1h-1zM306 76h2v1h-2zM309 76h24v1h-24zM334 76h2v1h-2zM341 76h1v1h-1zM441 76h1v1h-1zM444 76h19v1h-19zM176 77h6v1h-6zM183 77h10v1h-10zM194 77h2v1h-2zM197 77h1v1h-1zM303 77h1v1h-1zM306 77h27v1h-27zM334 77h1v1h-1zM336 77h1v1h-1zM339 77h1v1h-1zM440 77h1v1h-1zM443 77h21v1h-21zM172 78h1v1h-1zM175 78h1v1h-1zM177 78h15v1h-15zM194 78h2v1h-2zM197 78h1v1h-1zM304 78h1v1h-1zM306 78h31v1h-31zM339 78h1v1h-1zM443 78h18v1h-18zM462 78h2v1h-2zM466 78h1v1h-1zM173 79h2v1h-2zM176 79h23v1h-23zM303 79h2v1h-2zM306 79h31v1h-31zM338 79h1v1h-1zM439 79h1v1h-1zM441 79h1v1h-1zM443 79h19v1h-19zM464 79h1v1h-1zM169 80h1v1h-1zM174 80h23v1h-23zM199 80h1v1h-1zM301 80h1v1h-1zM303 80h34v1h-34zM441 80h24v1h-24zM467 80h1v1h-1zM171 81h1v1h-1zM173 81h21v1h-21zM195 81h4v1h-4zM201 81h1v1h-1zM203 81h1v1h-1zM301 81h1v1h-1zM303 81h34v1h-34zM339 81h1v1h-1zM440 81h1v1h-1zM443 81h22v1h-22zM172 82h25v1h-25zM302 82h4v1h-4zM307 82h31v1h-31zM340 82h1v1h-1zM439 82h26v1h-26zM170 83h1v1h-1zM172 83h24v1h-24zM198 83h1v1h-1zM305 83h33v1h-33zM438 83h1v1h-1zM442 83h23v1h-23zM466 83h1v1h-1zM172 84h26v1h-26zM199 84h1v1h-1zM201 84h1v1h-1zM300 84h2v1h-2zM304 84h35v1h-35zM340 84h2v1h-2zM441 84h24v1h-24zM466 84h1v1h-1zM167 85h1v1h-1zM171 85h3v1h-3zM175 85h24v1h-24zM301 85h1v1h-1zM303 85h36v1h-36zM439 85h25v1h-25zM467 85h1v1h-1zM469 85h1v1h-1zM169 86h1v1h-1zM172 86h26v1h-26zM199 86h1v1h-1zM300 86h3v1h-3zM304 86h37v1h-37zM437 86h30v1h-30zM173 87h27v1h-27zM201 87h2v1h-2zM302 87h36v1h-36zM339 87h2v1h-2zM342 87h1v1h-1zM435 87h1v1h-1zM439 87h3v1h-3zM443 87h24v1h-24zM468 87h1v1h-1zM171 88h26v1h-26zM198 88h2v1h-2zM301 88h40v1h-40zM345 88h1v1h-1zM440 88h1v1h-1zM442 88h25v1h-25zM468 88h1v1h-1zM476 88h1v1h-1zM171 89h1v1h-1zM174 89h28v1h-28zM203 89h1v1h-1zM205 89h1v1h-1zM299 89h2v1h-2zM302 89h38v1h-38zM342 89h2v1h-2zM438 89h1v1h-1zM440 89h27v1h-27zM468 89h1v1h-1zM170 90h1v1h-1zM173 90h25v1h-25zM202 90h1v1h-1zM298 90h1v1h-1zM300 90h2v1h-2zM304 90h37v1h-37zM438 90h1v1h-1zM440 90h27v1h-27zM169 91h3v1h-3zM173 91h2v1h-2zM176 91h22v1h-22zM199 91h2v1h-2zM207 91h1v1h-1zM296 91h1v1h-1zM301 91h1v1h-1zM303 91h38v1h-38zM343 91h2v1h-2zM348 91h1v1h-1zM437 91h2v1h-2zM440 91h27v1h-27zM170 92h1v1h-1zM172 92h26v1h-26zM201 92h1v1h-1zM296 92h1v1h-1zM301 92h40v1h-40zM436 92h1v1h-1zM438 92h1v1h-1zM440 92h1v1h-1zM442 92h25v1h-25zM167 93h1v1h-1zM171 93h28v1h-28zM201 93h1v1h-1zM204 93h1v1h-1zM300 93h3v1h-3zM304 93h38v1h-38zM347 93h1v1h-1zM437 93h1v1h-1zM439 93h26v1h-26zM159 94h1v1h-1zM172 94h1v1h-1zM174 94h25v1h-25zM303 94h37v1h-37zM439 94h1v1h-1zM441 94h24v1h-24zM466 94h1v1h-1zM169 95h3v1h-3zM173 95h1v1h-1zM175 95h21v1h-21zM197 95h1v1h-1zM202 95h1v1h-1zM298 95h1v1h-1zM300 95h1v1h-1zM302 95h38v1h-38zM342 95h1v1h-1zM437 95h3v1h-3zM441 95h25v1h-25zM169 96h1v1h-1zM172 96h24v1h-24zM197 96h1v1h-1zM199 96h1v1h-1zM300 96h1v1h-1zM302 96h2v1h-2zM305 96h31v1h-31zM337 96h3v1h-3zM349 96h1v1h-1zM442 96h23v1h-23zM466 96h2v1h-2zM169 97h1v1h-1zM174 97h25v1h-25zM201 97h1v1h-1zM297 97h1v1h-1zM299 97h3v1h-3zM303 97h36v1h-36zM340 97h1v1h-1zM437 97h1v1h-1zM440 97h1v1h-1zM442 97h23v1h-23zM466 97h2v1h-2zM168 98h3v1h-3zM172 98h3v1h-3zM176 98h23v1h-23zM300 98h1v1h-1zM302 98h39v1h-39zM439 98h1v1h-1zM442 98h19v1h-19zM462 98h1v1h-1zM464 98h1v1h-1zM467 98h1v1h-1zM173 99h3v1h-3zM178 99h20v1h-20zM199 99h1v1h-1zM202 99h1v1h-1zM298 99h1v1h-1zM304 99h35v1h-35zM340 99h1v1h-1zM442 99h20v1h-20zM464 99h3v1h-3zM170 100h1v1h-1zM172 100h1v1h-1zM174 100h1v1h-1zM176 100h1v1h-1zM178 100h20v1h-20zM199 100h1v1h-1zM201 100h1v1h-1zM301 100h3v1h-3zM305 100h34v1h-34zM442 100h2v1h-2zM445 100h17v1h-17zM463 100h1v1h-1zM467 100h1v1h-1zM175 101h1v1h-1zM182 101h2v1h-2zM185 101h3v1h-3zM191 101h2v1h-2zM194 101h2v1h-2zM306 101h1v1h-1zM308 101h2v1h-2zM311 101h3v1h-3zM315 101h17v1h-17zM333 101h2v1h-2zM447 101h3v1h-3zM451 101h1v1h-1zM455 101h1v1h-1zM457 101h2v1h-2zM460 101h3v1h-3zM185 125h1v1h-1zM453 130h1v1h-1zM317 135h1v1h-1zM185 136h1v1h-1zM450 136h1v1h-1zM444 137h1v1h-1zM319 140h1v1h-1zM318 141h1v1h-1zM446 141h1v1h-1zM313 142h1v1h-1zM318 142h1v1h-1zM449 142h1v1h-1zM334 143h1v1h-1zM183 146h1v1h-1zM187 147h1v1h-1zM448 147h1v1h-1zM184 149h1v1h-1zM316 150h1v1h-1zM185 151h1v1h-1zM318 151h1v1h-1zM315 152h1v1h-1zM185 153h1v1h-1zM447 153h1v1h-1zM318 155h1v1h-1zM316 156h1v1h-1zM318 156h1v1h-1zM445 156h1v1h-1zM454 156h1v1h-1zM315 157h1v1h-1zM183 158h2v1h-2zM315 158h1v1h-1zM187 159h1v1h-1zM314 159h3v1h-3zM450 159h1v1h-1zM184 160h1v1h-1zM313 160h1v1h-1zM315 160h1v1h-1zM319 160h1v1h-1zM445 160h2v1h-2zM449 160h1v1h-1zM185 161h1v1h-1zM314 161h1v1h-1zM324 161h1v1h-1zM456 161h1v1h-1zM314 162h1v1h-1zM317 162h1v1h-1zM319 162h1v1h-1zM325 162h1v1h-1zM451 162h2v1h-2zM182 163h2v1h-2zM190 163h1v1h-1zM313 163h3v1h-3zM317 163h1v1h-1zM320 163h1v1h-1zM330 163h1v1h-1zM442 163h1v1h-1zM445 163h2v1h-2zM449 163h1v1h-1zM453 163h2v1h-2zM176 164h1v1h-1zM181 164h2v1h-2zM184 164h1v1h-1zM188 164h1v1h-1zM315 164h5v1h-5zM323 164h1v1h-1zM329 164h1v1h-1zM333 164h1v1h-1zM443 164h1v1h-1zM445 164h4v1h-4zM452 164h1v1h-1zM454 164h1v1h-1zM178 165h1v1h-1zM180 165h15v1h-15zM311 165h1v1h-1zM314 165h6v1h-6zM323 165h4v1h-4zM329 165h1v1h-1zM333 165h3v1h-3zM441 165h2v1h-2zM444 165h10v1h-10zM455 165h1v1h-1zM460 165h1v1h-1zM181 166h3v1h-3zM187 166h4v1h-4zM309 166h1v1h-1zM314 166h2v1h-2zM317 166h2v1h-2zM320 166h2v1h-2zM325 166h3v1h-3zM329 166h1v1h-1zM447 166h1v1h-1zM176 167h1v1h-1zM182 167h1v1h-1zM184 167h1v1h-1zM187 167h1v1h-1zM311 167h1v1h-1zM315 167h1v1h-1zM317 167h6v1h-6zM324 167h4v1h-4zM329 167h1v1h-1zM332 167h1v1h-1zM178 168h1v1h-1zM180 168h1v1h-1zM185 168h1v1h-1zM187 168h1v1h-1zM189 168h1v1h-1zM192 168h2v1h-2zM317 168h12v1h-12zM330 168h3v1h-3zM335 168h1v1h-1zM448 168h1v1h-1zM181 169h1v1h-1zM184 169h3v1h-3zM188 169h7v1h-7zM199 169h1v1h-1zM310 169h1v1h-1zM317 169h16v1h-16zM339 169h1v1h-1zM443 169h1v1h-1zM448 169h2v1h-2zM455 169h2v1h-2zM179 170h1v1h-1zM183 170h2v1h-2zM186 170h1v1h-1zM190 170h1v1h-1zM192 170h1v1h-1zM194 170h3v1h-3zM199 170h2v1h-2zM311 170h1v1h-1zM313 170h22v1h-22zM440 170h1v1h-1zM444 170h1v1h-1zM446 170h5v1h-5zM454 170h1v1h-1zM456 170h2v1h-2zM460 170h1v1h-1zM171 171h1v1h-1zM178 171h14v1h-14zM194 171h1v1h-1zM197 171h1v1h-1zM200 171h1v1h-1zM311 171h23v1h-23zM335 171h2v1h-2zM440 171h2v1h-2zM443 171h2v1h-2zM447 171h7v1h-7zM455 171h2v1h-2zM175 172h2v1h-2zM178 172h2v1h-2zM181 172h15v1h-15zM304 172h1v1h-1zM308 172h1v1h-1zM310 172h3v1h-3zM314 172h25v1h-25zM436 172h2v1h-2zM439 172h1v1h-1zM441 172h1v1h-1zM443 172h13v1h-13zM459 172h1v1h-1zM175 173h1v1h-1zM177 173h16v1h-16zM194 173h1v1h-1zM197 173h1v1h-1zM309 173h28v1h-28zM338 173h1v1h-1zM439 173h20v1h-20zM175 174h15v1h-15zM191 174h5v1h-5zM197 174h1v1h-1zM200 174h1v1h-1zM305 174h3v1h-3zM309 174h32v1h-32zM437 174h1v1h-1zM439 174h19v1h-19zM459 174h1v1h-1zM462 174h1v1h-1zM173 175h1v1h-1zM175 175h25v1h-25zM301 175h1v1h-1zM307 175h33v1h-33zM437 175h21v1h-21zM459 175h2v1h-2zM168 176h1v1h-1zM173 176h1v1h-1zM175 176h1v1h-1zM177 176h21v1h-21zM304 176h1v1h-1zM306 176h33v1h-33zM436 176h1v1h-1zM438 176h25v1h-25zM172 177h1v1h-1zM174 177h1v1h-1zM176 177h23v1h-23zM303 177h1v1h-1zM306 177h1v1h-1zM308 177h32v1h-32zM342 177h1v1h-1zM433 177h1v1h-1zM437 177h23v1h-23zM174 178h1v1h-1zM176 178h25v1h-25zM303 178h1v1h-1zM306 178h35v1h-35zM344 178h1v1h-1zM436 178h1v1h-1zM438 178h22v1h-22zM462 178h1v1h-1zM466 178h1v1h-1zM160 179h1v1h-1zM172 179h2v1h-2zM175 179h24v1h-24zM200 179h2v1h-2zM305 179h35v1h-35zM341 179h2v1h-2zM434 179h3v1h-3zM438 179h25v1h-25zM467 179h1v1h-1zM169 180h2v1h-2zM172 180h2v1h-2zM175 180h23v1h-23zM201 180h1v1h-1zM209 180h1v1h-1zM302 180h2v1h-2zM305 180h35v1h-35zM342 180h1v1h-1zM434 180h1v1h-1zM436 180h1v1h-1zM438 180h25v1h-25zM468 180h1v1h-1zM170 181h1v1h-1zM172 181h1v1h-1zM174 181h28v1h-28zM304 181h37v1h-37zM342 181h1v1h-1zM436 181h30v1h-30zM172 182h27v1h-27zM302 182h1v1h-1zM304 182h39v1h-39zM432 182h1v1h-1zM436 182h29v1h-29zM167 183h1v1h-1zM172 183h5v1h-5zM178 183h20v1h-20zM201 183h1v1h-1zM304 183h38v1h-38zM431 183h1v1h-1zM433 183h3v1h-3zM438 183h26v1h-26zM170 184h1v1h-1zM172 184h3v1h-3zM176 184h23v1h-23zM202 184h1v1h-1zM204 184h1v1h-1zM301 184h1v1h-1zM303 184h1v1h-1zM305 184h39v1h-39zM433 184h30v1h-30zM464 184h2v1h-2zM468 184h1v1h-1zM171 185h1v1h-1zM173 185h26v1h-26zM200 185h1v1h-1zM204 185h1v1h-1zM303 185h1v1h-1zM305 185h37v1h-37zM430 185h1v1h-1zM432 185h1v1h-1zM435 185h30v1h-30zM169 186h1v1h-1zM173 186h2v1h-2zM176 186h22v1h-22zM199 186h2v1h-2zM304 186h39v1h-39zM434 186h1v1h-1zM436 186h28v1h-28zM467 186h1v1h-1zM171 187h1v1h-1zM176 187h24v1h-24zM302 187h1v1h-1zM304 187h2v1h-2zM307 187h33v1h-33zM341 187h1v1h-1zM344 187h1v1h-1zM433 187h32v1h-32zM466 187h2v1h-2zM172 188h1v1h-1zM174 188h26v1h-26zM303 188h39v1h-39zM343 188h2v1h-2zM434 188h30v1h-30zM467 188h1v1h-1zM170 189h27v1h-27zM198 189h1v1h-1zM200 189h1v1h-1zM303 189h2v1h-2zM306 189h35v1h-35zM344 189h1v1h-1zM433 189h2v1h-2zM436 189h27v1h-27zM464 189h2v1h-2zM172 190h28v1h-28zM203 190h1v1h-1zM304 190h36v1h-36zM341 190h1v1h-1zM344 190h1v1h-1zM433 190h1v1h-1zM435 190h29v1h-29zM171 191h5v1h-5zM177 191h24v1h-24zM304 191h1v1h-1zM306 191h36v1h-36zM343 191h1v1h-1zM435 191h28v1h-28zM466 191h1v1h-1zM175 192h24v1h-24zM306 192h34v1h-34zM341 192h1v1h-1zM434 192h28v1h-28zM176 193h23v1h-23zM301 193h1v1h-1zM305 193h36v1h-36zM433 193h27v1h-27zM461 193h3v1h-3zM171 194h1v1h-1zM174 194h1v1h-1zM176 194h19v1h-19zM196 194h2v1h-2zM304 194h1v1h-1zM308 194h32v1h-32zM341 194h1v1h-1zM431 194h1v1h-1zM434 194h2v1h-2zM437 194h25v1h-25zM463 194h2v1h-2zM171 195h2v1h-2zM174 195h1v1h-1zM176 195h3v1h-3zM180 195h17v1h-17zM303 195h1v1h-1zM306 195h33v1h-33zM340 195h2v1h-2zM344 195h1v1h-1zM434 195h29v1h-29zM466 195h1v1h-1zM172 196h1v1h-1zM175 196h4v1h-4zM180 196h15v1h-15zM196 196h2v1h-2zM301 196h1v1h-1zM306 196h1v1h-1zM308 196h33v1h-33zM436 196h26v1h-26zM464 196h1v1h-1zM180 197h1v1h-1zM186 197h4v1h-4zM311 197h23v1h-23zM335 197h1v1h-1zM337 197h1v1h-1zM435 197h1v1h-1zM438 197h1v1h-1zM441 197h19v1h-19zM462 197h2v1h-2z"/>

<text transform="translate(180.5,7.6) scale(1.03,1)" font-size="10" font-weight="normal" text-anchor="middle" fill="#000" stroke="#000" stroke-width="0.5" >Naive B6</text>
<text transform="translate(279.6,7.6) scale(1.01,1)" font-size="10" font-weight="normal" text-anchor="start" fill="#000" stroke="#000" stroke-width="0.5" >B6+BALB/c-DST</text>
<text transform="translate(382.7,7.6) scale(1.02,1)" font-size="10" font-weight="normal" text-anchor="start" fill="#000" stroke="#000" stroke-width="0.5" >B6 BALB/c-DST+anti-CD154</text>
<text x="128.2" y="25.6" font-size="10" font-weight="bold" text-anchor="start" fill="#000" stroke="#000" stroke-width="0.3" >0.49%</text>
<text x="199.8" y="25.6" font-size="10" font-weight="bold" text-anchor="start" fill="#000" stroke="#000" stroke-width="0.3" >&lt;0.05%</text>
<text x="263" y="25.6" font-size="10" font-weight="bold" text-anchor="start" fill="#000" stroke="#000" stroke-width="0.3" >0.09%</text>
<text x="339.3" y="25.6" font-size="10" font-weight="bold" text-anchor="start" fill="#000" stroke="#000" stroke-width="0.3" >0.38%</text>
<text x="394.7" y="25.6" font-size="10" font-weight="bold" text-anchor="start" fill="#000" stroke="#000" stroke-width="0.3" >0.08%</text>
<text x="468.6" y="25.6" font-size="10" font-weight="bold" text-anchor="start" fill="#000" stroke="#000" stroke-width="0.3" >&lt;0.05%</text>
<text x="128.6" y="122.3" font-size="10" font-weight="bold" text-anchor="start" fill="#000" stroke="#000" stroke-width="0.3" >0.71%</text>
<text x="199.9" y="122.3" font-size="10" font-weight="bold" text-anchor="start" fill="#000" stroke="#000" stroke-width="0.3" >&lt;0.05%</text>
<text x="263" y="122.3" font-size="10" font-weight="bold" text-anchor="start" fill="#000" stroke="#000" stroke-width="0.3" >0.52%</text>
<text x="334.9" y="122.3" font-size="10" font-weight="bold" text-anchor="start" fill="#000" stroke="#000" stroke-width="0.3" >&lt;0.05%</text>
<text x="393.4" y="122.3" font-size="10" font-weight="bold" text-anchor="start" fill="#000" stroke="#000" stroke-width="0.3" >0.65%</text>
<text x="467" y="122.3" font-size="10" font-weight="bold" text-anchor="start" fill="#000" stroke="#000" stroke-width="0.3" >&lt;0.05%</text>
<text x="5" y="16.4" font-size="20" font-weight="bold" text-anchor="start" fill="#000" stroke="#000" stroke-width="0.4" >A</text>
<text transform="translate(5,34.2) scale(1.075,1)" font-size="9.4" stroke="#000" stroke-width="0.45">H2<tspan font-size="5.6" dy="-3.2">d</tspan><tspan dy="3.2">-Allogeneic Stim.</tspan></text>
<text transform="translate(5,45.7) scale(1.075,1)" font-size="9.4" font-weight="normal" text-anchor="start" fill="#000" stroke="#000" stroke-width="0.45" >(BALB/c)</text>
<text x="5.3" y="117.5" font-size="20" font-weight="bold" text-anchor="start" fill="#000" stroke="#000" stroke-width="0.4" >B</text>
<text transform="translate(5,132.9) scale(1.075,1)" font-size="9.4" stroke="#000" stroke-width="0.45">H2<tspan font-size="5.6" dy="-3.2">k</tspan><tspan dy="3.2">-Allogeneic Stim.</tspan></text>
<text transform="translate(5,144.5) scale(1.075,1)" font-size="9.4" font-weight="normal" text-anchor="start" fill="#000" stroke="#000" stroke-width="0.45" >(CBA)</text>
<line x1="102.8" y1="16.3" x2="102.8" y2="86.4" stroke="#000" stroke-width="2"/>
<path d="M100.2 17.3L102.8 11.3L105.39999999999999 17.3z" fill="#000"/>
<line x1="102.8" y1="115.9" x2="102.8" y2="184.1" stroke="#000" stroke-width="2"/>
<path d="M100.2 116.9L102.8 110.9L105.39999999999999 116.9z" fill="#000"/>
<text x="85.0" y="99.9" font-size="10" font-weight="bold" text-anchor="start" fill="#000" >TNF-α</text>
<text x="85.0" y="197.6" font-size="10" font-weight="bold" text-anchor="start" fill="#000" >TNF-α</text>
<text x="119" y="212.3" font-size="10" font-weight="bold" text-anchor="start" fill="#000" stroke="#000" stroke-width="0.1" >CD11a</text>
<line x1="152" y1="209.2" x2="494" y2="209.2" stroke="#000" stroke-width="2"/>
<path d="M493 206.6L499 209.2L493 211.79999999999998z" fill="#000"/>
<text x="5.8" y="235" font-size="20" font-weight="bold" text-anchor="start" fill="#000" stroke="#000" stroke-width="0.4" >C</text>
<text transform="translate(0.6,267) scale(1.03,1)" font-size="9.5" stroke="#000" stroke-width="0.5">H2<tspan font-size="5.6" dy="-3.3">d</tspan><tspan dy="3.3">-</tspan></text>
<text transform="translate(0.3,279.3) scale(1.03,1)" font-size="9.5" font-weight="normal" text-anchor="start" fill="#000" stroke="#000" stroke-width="0.5" >Allogeneic-</text>
<text transform="translate(0.3,290.6) scale(1.03,1)" font-size="9.5" font-weight="normal" text-anchor="start" fill="#000" stroke="#000" stroke-width="0.5" >Stim.</text>
<rect x="52.3" y="295.3" width="2.2000000000000055" height="54.69999999999999" fill="#000" stroke="none" stroke-width="1"/>
<rect x="54.2" y="334.5" width="1.5999999999999972" height="15.5" fill="#888" stroke="none" stroke-width="1"/>
<rect x="54.2" y="342" width="1.5999999999999972" height="8" fill="#000" stroke="none" stroke-width="1"/>
<rect x="55.5" y="334.5" width="1.8" height="15.5" fill="#000" stroke="none" stroke-width="1"/>
<rect x="57" y="334.5" width="1.5000000000000029" height="15.5" fill="#888" stroke="none" stroke-width="1"/>
<rect x="57" y="342" width="1.5000000000000029" height="8" fill="#000" stroke="none" stroke-width="1"/>
<rect x="58.2" y="334.5" width="1.4999999999999958" height="15.5" fill="#000" stroke="none" stroke-width="1"/>
<rect x="61.7" y="334.5" width="1.8" height="15.5" fill="#000" stroke="none" stroke-width="1"/>
<rect x="63.2" y="334.5" width="2.399999999999994" height="15.5" fill="#888" stroke="none" stroke-width="1"/>
<rect x="63.2" y="342" width="2.399999999999994" height="8" fill="#000" stroke="none" stroke-width="1"/>
<rect x="65.3" y="342" width="2.599999999999997" height="8" fill="#000" stroke="none" stroke-width="1"/>
<rect x="67.6" y="334.5" width="2.7000000000000055" height="15.5" fill="#000" stroke="none" stroke-width="1"/>
<rect x="71.6" y="318.7" width="2.2000000000000055" height="31.30000000000001" fill="#000" stroke="none" stroke-width="1"/>
<rect x="73.5" y="334.5" width="9.700000000000006" height="15.5" fill="#000" stroke="none" stroke-width="1"/>
<rect x="82.9" y="303.5" width="2.599999999999997" height="46.5" fill="#888" stroke="none" stroke-width="1"/>
<rect x="82.9" y="310.5" width="2.599999999999997" height="39.5" fill="#000" stroke="none" stroke-width="1"/>
<rect x="85.2" y="310.5" width="2.6999999999999913" height="39.5" fill="#888" stroke="none" stroke-width="1"/>
<rect x="85.2" y="318.7" width="2.6999999999999913" height="31.30000000000001" fill="#000" stroke="none" stroke-width="1"/>
<rect x="87.6" y="288.2" width="2.600000000000011" height="61.80000000000001" fill="#000" stroke="none" stroke-width="1"/>
<rect x="88.4" y="272" width="1.0999999999999972" height="78" fill="#000" stroke="none" stroke-width="1"/>
<rect x="89.9" y="303.5" width="2.6999999999999913" height="46.5" fill="#888" stroke="none" stroke-width="1"/>
<rect x="89.9" y="310.5" width="2.6999999999999913" height="39.5" fill="#000" stroke="none" stroke-width="1"/>
<rect x="92.3" y="288.2" width="2.599999999999997" height="61.80000000000001" fill="#000" stroke="none" stroke-width="1"/>
<rect x="94.6" y="318.7" width="2.7000000000000055" height="31.30000000000001" fill="#000" stroke="none" stroke-width="1"/>
<rect x="97" y="318.7" width="2.599999999999997" height="31.30000000000001" fill="#888" stroke="none" stroke-width="1"/>
<rect x="97" y="327" width="2.599999999999997" height="23" fill="#000" stroke="none" stroke-width="1"/>
<rect x="99.3" y="334.5" width="2.599999999999997" height="15.5" fill="#000" stroke="none" stroke-width="1"/>
<rect x="102.8" y="318.7" width="2.7000000000000055" height="31.30000000000001" fill="#000" stroke="none" stroke-width="1"/>
<rect x="105.2" y="342" width="2.099999999999997" height="8" fill="#000" stroke="none" stroke-width="1"/>
<rect x="108.2" y="334.5" width="2.0000000000000027" height="15.5" fill="#888" stroke="none" stroke-width="1"/>
<rect x="108.2" y="342" width="2.0000000000000027" height="8" fill="#000" stroke="none" stroke-width="1"/>
<rect x="113.4" y="334.5" width="2.1999999999999913" height="15.5" fill="#000" stroke="none" stroke-width="1"/>
<rect x="124.6" y="334.5" width="2.2000000000000055" height="15.5" fill="#000" stroke="none" stroke-width="1"/>
<line x1="52.6" y1="257.4" x2="171.4" y2="257.4" stroke="#222" stroke-width="1"/>
<line x1="171.4" y1="257.4" x2="171.4" y2="350" stroke="#777" stroke-width="1"/>
<line x1="52.6" y1="350" x2="171.4" y2="350" stroke="#111" stroke-width="1.3"/>
<line x1="52.6" y1="257.4" x2="52.6" y2="350" stroke="#111" stroke-width="1.6"/>
<line x1="51.1" y1="344.5529411764706" x2="52.6" y2="344.5529411764706" stroke="#444" stroke-width="0.8"/>
<line x1="50.1" y1="339.1058823529412" x2="52.6" y2="339.1058823529412" stroke="#444" stroke-width="0.8"/>
<line x1="51.1" y1="333.65882352941173" x2="52.6" y2="333.65882352941173" stroke="#444" stroke-width="0.8"/>
<line x1="50.1" y1="328.21176470588233" x2="52.6" y2="328.21176470588233" stroke="#444" stroke-width="0.8"/>
<line x1="51.1" y1="322.7647058823529" x2="52.6" y2="322.7647058823529" stroke="#444" stroke-width="0.8"/>
<line x1="50.1" y1="317.3176470588235" x2="52.6" y2="317.3176470588235" stroke="#444" stroke-width="0.8"/>
<line x1="51.1" y1="311.8705882352941" x2="52.6" y2="311.8705882352941" stroke="#444" stroke-width="0.8"/>
<line x1="50.1" y1="306.4235294117647" x2="52.6" y2="306.4235294117647" stroke="#444" stroke-width="0.8"/>
<line x1="51.1" y1="300.97647058823526" x2="52.6" y2="300.97647058823526" stroke="#444" stroke-width="0.8"/>
<line x1="50.1" y1="295.52941176470586" x2="52.6" y2="295.52941176470586" stroke="#444" stroke-width="0.8"/>
<line x1="51.1" y1="290.08235294117645" x2="52.6" y2="290.08235294117645" stroke="#444" stroke-width="0.8"/>
<line x1="50.1" y1="284.63529411764705" x2="52.6" y2="284.63529411764705" stroke="#444" stroke-width="0.8"/>
<line x1="51.1" y1="279.18823529411765" x2="52.6" y2="279.18823529411765" stroke="#444" stroke-width="0.8"/>
<line x1="50.1" y1="273.74117647058824" x2="52.6" y2="273.74117647058824" stroke="#444" stroke-width="0.8"/>
<line x1="51.1" y1="268.2941176470588" x2="52.6" y2="268.2941176470588" stroke="#444" stroke-width="0.8"/>
<line x1="50.1" y1="262.8470588235294" x2="52.6" y2="262.8470588235294" stroke="#444" stroke-width="0.8"/>
<line x1="52.6" y1="353.3" x2="171.4" y2="353.3" stroke="#555" stroke-width="2.4" stroke-dasharray="2.4 1"/>
<line x1="52.6" y1="350" x2="52.6" y2="354.5" stroke="#222" stroke-width="1"/>
<line x1="82.30000000000001" y1="350" x2="82.30000000000001" y2="354.5" stroke="#222" stroke-width="1"/>
<line x1="112.0" y1="350" x2="112.0" y2="354.5" stroke="#222" stroke-width="1"/>
<line x1="141.70000000000002" y1="350" x2="141.70000000000002" y2="354.5" stroke="#222" stroke-width="1"/>
<line x1="171.4" y1="350" x2="171.4" y2="354.5" stroke="#222" stroke-width="1"/>
<line x1="99.5" y1="257.4" x2="118.5" y2="257.4" stroke="#111" stroke-width="1.3" stroke-dasharray="4 1 3 1 2 1"/>
<text transform="translate(111.9,253.8) scale(1.1,1)" font-size="9.4" font-weight="normal" text-anchor="middle" fill="#000" stroke="#000" stroke-width="0.5" >Naive B6</text>
<line x1="106" y1="282.5" x2="163.5" y2="282.5" stroke="#333" stroke-width="1.1"/>
<line x1="106" y1="276" x2="106" y2="287.5" stroke="#333" stroke-width="1.1"/>
<line x1="163.5" y1="276" x2="163.5" y2="287.5" stroke="#333" stroke-width="1.1"/>
<text x="110.4" y="279.8" font-size="10" font-weight="bold" text-anchor="start" fill="#000" stroke="#000" stroke-width="0.3" >1.3%</text>
<text x="143.0" y="279" font-size="7" font-weight="normal" text-anchor="start" fill="#444" >M1</text>
<rect x="180.2" y="303.5" width="3.100000000000011" height="46.5" fill="#000" stroke="none" stroke-width="1"/>
<rect x="189.7" y="334.5" width="1.8" height="15.5" fill="#000" stroke="none" stroke-width="1"/>
<rect x="191.8" y="334.5" width="1.8" height="15.5" fill="#888" stroke="none" stroke-width="1"/>
<rect x="191.8" y="342" width="1.8" height="8" fill="#000" stroke="none" stroke-width="1"/>
<rect x="193.8" y="334.5" width="1.8" height="15.5" fill="#000" stroke="none" stroke-width="1"/>
<rect x="195.8" y="334.5" width="1.8" height="15.5" fill="#888" stroke="none" stroke-width="1"/>
<rect x="195.8" y="342" width="1.8" height="8" fill="#000" stroke="none" stroke-width="1"/>
<rect x="197.8" y="334.5" width="1.8" height="15.5" fill="#000" stroke="none" stroke-width="1"/>
<rect x="199.8" y="342" width="1.9999999999999887" height="8" fill="#000" stroke="none" stroke-width="1"/>
<rect x="203.8" y="334.5" width="1.8" height="15.5" fill="#000" stroke="none" stroke-width="1"/>
<rect x="205.8" y="334.5" width="1.8" height="15.5" fill="#888" stroke="none" stroke-width="1"/>
<rect x="205.8" y="342" width="1.8" height="8" fill="#000" stroke="none" stroke-width="1"/>
<rect x="207.8" y="334.5" width="1.8" height="15.5" fill="#000" stroke="none" stroke-width="1"/>
<rect x="209.8" y="334.5" width="1.8" height="15.5" fill="#000" stroke="none" stroke-width="1"/>
<rect x="211.8" y="334.5" width="1.8" height="15.5" fill="#888" stroke="none" stroke-width="1"/>
<rect x="211.8" y="342" width="1.8" height="8" fill="#000" stroke="none" stroke-width="1"/>
<rect x="213.8" y="334.5" width="1.8" height="15.5" fill="#000" stroke="none" stroke-width="1"/>
<rect x="215.8" y="334.5" width="1.8" height="15.5" fill="#888" stroke="none" stroke-width="1"/>
<rect x="215.8" y="342" width="1.8" height="8" fill="#000" stroke="none" stroke-width="1"/>
<rect x="217.8" y="334.5" width="1.8" height="15.5" fill="#000" stroke="none" stroke-width="1"/>
<rect x="219.8" y="342" width="1.8" height="8" fill="#000" stroke="none" stroke-width="1"/>
<rect x="221.8" y="334.5" width="2.3" height="15.5" fill="#000" stroke="none" stroke-width="1"/>
<rect x="226" y="318.7" width="2.3" height="31.30000000000001" fill="#888" stroke="none" stroke-width="1"/>
<rect x="226" y="327" width="2.3" height="23" fill="#000" stroke="none" stroke-width="1"/>
<rect x="228.5" y="334.5" width="2.3" height="15.5" fill="#000" stroke="none" stroke-width="1"/>
<rect x="231" y="342" width="2.3" height="8" fill="#000" stroke="none" stroke-width="1"/>
<rect x="233.5" y="334.5" width="1.8" height="15.5" fill="#000" stroke="none" stroke-width="1"/>
<rect x="235.5" y="334.5" width="1.8" height="15.5" fill="#888" stroke="none" stroke-width="1"/>
<rect x="235.5" y="342" width="1.8" height="8" fill="#000" stroke="none" stroke-width="1"/>
<rect x="237.3" y="318.7" width="1.9999999999999887" height="31.30000000000001" fill="#888" stroke="none" stroke-width="1"/>
<rect x="237.3" y="327" width="1.9999999999999887" height="23" fill="#000" stroke="none" stroke-width="1"/>
<rect x="239.5" y="334.5" width="2.3" height="15.5" fill="#000" stroke="none" stroke-width="1"/>
<rect x="241.5" y="334.5" width="2.8" height="15.5" fill="#000" stroke="none" stroke-width="1"/>
<rect x="244" y="334.5" width="2.8" height="15.5" fill="#000" stroke="none" stroke-width="1"/>
<rect x="246.5" y="334.5" width="2.2000000000000055" height="15.5" fill="#888" stroke="none" stroke-width="1"/>
<rect x="246.5" y="342" width="2.2000000000000055" height="8" fill="#000" stroke="none" stroke-width="1"/>
<rect x="248.4" y="318.7" width="2.0999999999999828" height="31.30000000000001" fill="#000" stroke="none" stroke-width="1"/>
<rect x="250.2" y="327" width="3.100000000000011" height="23" fill="#000" stroke="none" stroke-width="1"/>
<rect x="253" y="303.5" width="2.8" height="46.5" fill="#888" stroke="none" stroke-width="1"/>
<rect x="253" y="311.7" width="2.8" height="38.30000000000001" fill="#000" stroke="none" stroke-width="1"/>
<rect x="255.5" y="318.7" width="2.3" height="31.30000000000001" fill="#000" stroke="none" stroke-width="1"/>
<rect x="257.5" y="327" width="2.8" height="23" fill="#000" stroke="none" stroke-width="1"/>
<rect x="260" y="288.2" width="2.8" height="61.80000000000001" fill="#888" stroke="none" stroke-width="1"/>
<rect x="260" y="303.5" width="2.8" height="46.5" fill="#000" stroke="none" stroke-width="1"/>
<rect x="262.5" y="311.7" width="2.199999999999977" height="38.30000000000001" fill="#000" stroke="none" stroke-width="1"/>
<rect x="264.4" y="288.2" width="2.600000000000011" height="61.80000000000001" fill="#888" stroke="none" stroke-width="1"/>
<rect x="264.4" y="311.7" width="2.600000000000011" height="38.30000000000001" fill="#000" stroke="none" stroke-width="1"/>
<rect x="266.7" y="318.7" width="1.6000000000000114" height="31.30000000000001" fill="#000" stroke="none" stroke-width="1"/>
<rect x="268" y="327" width="1.8" height="23" fill="#000" stroke="none" stroke-width="1"/>
<rect x="269.5" y="334.5" width="2.699999999999977" height="15.5" fill="#000" stroke="none" stroke-width="1"/>
<rect x="272.3" y="334.5" width="1.8" height="15.5" fill="#000" stroke="none" stroke-width="1"/>
<rect x="274.2" y="334.5" width="1.8" height="15.5" fill="#888" stroke="none" stroke-width="1"/>
<rect x="274.2" y="342" width="1.8" height="8" fill="#000" stroke="none" stroke-width="1"/>
<rect x="276.1" y="334.5" width="1.8" height="15.5" fill="#000" stroke="none" stroke-width="1"/>
<rect x="278" y="334.5" width="1.8" height="15.5" fill="#888" stroke="none" stroke-width="1"/>
<rect x="278" y="342" width="1.8" height="8" fill="#000" stroke="none" stroke-width="1"/>
<rect x="279.9" y="334.5" width="1.8" height="15.5" fill="#000" stroke="none" stroke-width="1"/>
<rect x="281.8" y="342" width="1.8" height="8" fill="#000" stroke="none" stroke-width="1"/>
<rect x="284.8" y="334.5" width="1.9999999999999887" height="15.5" fill="#000" stroke="none" stroke-width="1"/>
<line x1="180.2" y1="257.4" x2="298.9" y2="257.4" stroke="#222" stroke-width="1"/>
<line x1="298.9" y1="257.4" x2="298.9" y2="350" stroke="#777" stroke-width="1"/>
<line x1="180.2" y1="350" x2="298.9" y2="350" stroke="#111" stroke-width="1.3"/>
<line x1="180.2" y1="257.4" x2="180.2" y2="350" stroke="#111" stroke-width="2.2"/>
<line x1="178.7" y1="344.5529411764706" x2="180.2" y2="344.5529411764706" stroke="#444" stroke-width="0.8"/>
<line x1="177.7" y1="339.1058823529412" x2="180.2" y2="339.1058823529412" stroke="#444" stroke-width="0.8"/>
<line x1="178.7" y1="333.65882352941173" x2="180.2" y2="333.65882352941173" stroke="#444" stroke-width="0.8"/>
<line x1="177.7" y1="328.21176470588233" x2="180.2" y2="328.21176470588233" stroke="#444" stroke-width="0.8"/>
<line x1="178.7" y1="322.7647058823529" x2="180.2" y2="322.7647058823529" stroke="#444" stroke-width="0.8"/>
<line x1="177.7" y1="317.3176470588235" x2="180.2" y2="317.3176470588235" stroke="#444" stroke-width="0.8"/>
<line x1="178.7" y1="311.8705882352941" x2="180.2" y2="311.8705882352941" stroke="#444" stroke-width="0.8"/>
<line x1="177.7" y1="306.4235294117647" x2="180.2" y2="306.4235294117647" stroke="#444" stroke-width="0.8"/>
<line x1="178.7" y1="300.97647058823526" x2="180.2" y2="300.97647058823526" stroke="#444" stroke-width="0.8"/>
<line x1="177.7" y1="295.52941176470586" x2="180.2" y2="295.52941176470586" stroke="#444" stroke-width="0.8"/>
<line x1="178.7" y1="290.08235294117645" x2="180.2" y2="290.08235294117645" stroke="#444" stroke-width="0.8"/>
<line x1="177.7" y1="284.63529411764705" x2="180.2" y2="284.63529411764705" stroke="#444" stroke-width="0.8"/>
<line x1="178.7" y1="279.18823529411765" x2="180.2" y2="279.18823529411765" stroke="#444" stroke-width="0.8"/>
<line x1="177.7" y1="273.74117647058824" x2="180.2" y2="273.74117647058824" stroke="#444" stroke-width="0.8"/>
<line x1="178.7" y1="268.2941176470588" x2="180.2" y2="268.2941176470588" stroke="#444" stroke-width="0.8"/>
<line x1="177.7" y1="262.8470588235294" x2="180.2" y2="262.8470588235294" stroke="#444" stroke-width="0.8"/>
<line x1="180.2" y1="353.3" x2="298.9" y2="353.3" stroke="#555" stroke-width="2.4" stroke-dasharray="2.4 1"/>
<line x1="180.2" y1="350" x2="180.2" y2="354.5" stroke="#222" stroke-width="1"/>
<line x1="209.875" y1="350" x2="209.875" y2="354.5" stroke="#222" stroke-width="1"/>
<line x1="239.54999999999998" y1="350" x2="239.54999999999998" y2="354.5" stroke="#222" stroke-width="1"/>
<line x1="269.22499999999997" y1="350" x2="269.22499999999997" y2="354.5" stroke="#222" stroke-width="1"/>
<line x1="298.9" y1="350" x2="298.9" y2="354.5" stroke="#222" stroke-width="1"/>
<line x1="227" y1="257.4" x2="246" y2="257.4" stroke="#111" stroke-width="1.3" stroke-dasharray="4 1 3 1 2 1"/>
<text transform="translate(240.8,253.8) scale(1.06,1)" font-size="9.4" font-weight="normal" text-anchor="middle" fill="#000" stroke="#000" stroke-width="0.5" >B6+BALB/c-DST</text>
<line x1="233.6" y1="282.5" x2="291.7" y2="282.5" stroke="#333" stroke-width="1.1"/>
<line x1="233.6" y1="276" x2="233.6" y2="287.5" stroke="#333" stroke-width="1.1"/>
<line x1="291.7" y1="276" x2="291.7" y2="287.5" stroke="#333" stroke-width="1.1"/>
<text x="237.7" y="279.8" font-size="10" font-weight="bold" text-anchor="start" fill="#000" stroke="#000" stroke-width="0.3" >72%</text>
<text x="271.2" y="279" font-size="7" font-weight="normal" text-anchor="start" fill="#444" >M1</text>
<text x="54.6" y="367.4" font-size="10" font-weight="bold" text-anchor="start" fill="#000" >IFN-γ</text>
<line x1="79.5" y1="365.9" x2="291.2" y2="365.9" stroke="#000" stroke-width="2"/>
<path d="M290.2 363.29999999999995L296.2 365.9L290.2 368.5z" fill="#000"/>
<text x="311.4" y="236.8" font-size="20" font-weight="bold" text-anchor="start" fill="#000" stroke="#000" stroke-width="0.4" >D</text>
<line x1="358.8" y1="231.2" x2="514.4" y2="231.2" stroke="#111" stroke-width="1.2"/>
<line x1="514.4" y1="231.2" x2="514.4" y2="350.5" stroke="#222" stroke-width="1"/>
<line x1="358.8" y1="350.5" x2="514.4" y2="350.5" stroke="#000" stroke-width="1.4"/>
<line x1="358.8" y1="231.2" x2="358.8" y2="350.5" stroke="#000" stroke-width="1.4"/>
<line x1="356.3" y1="326.64" x2="358.8" y2="326.64" stroke="#000" stroke-width="1.2"/>
<text transform="translate(354.9,329.94) scale(0.9,1)" font-size="9" font-weight="bold" text-anchor="end" fill="#000" stroke="#000" stroke-width="0.3" >2</text>
<line x1="356.3" y1="302.78" x2="358.8" y2="302.78" stroke="#000" stroke-width="1.2"/>
<text transform="translate(354.9,306.08) scale(0.9,1)" font-size="9" font-weight="bold" text-anchor="end" fill="#000" stroke="#000" stroke-width="0.3" >4</text>
<line x1="356.3" y1="278.91999999999996" x2="358.8" y2="278.91999999999996" stroke="#000" stroke-width="1.2"/>
<text transform="translate(354.9,282.21999999999997) scale(0.9,1)" font-size="9" font-weight="bold" text-anchor="end" fill="#000" stroke="#000" stroke-width="0.3" >6</text>
<line x1="356.3" y1="255.06" x2="358.8" y2="255.06" stroke="#000" stroke-width="1.2"/>
<text transform="translate(354.9,258.36) scale(0.9,1)" font-size="9" font-weight="bold" text-anchor="end" fill="#000" stroke="#000" stroke-width="0.3" >8</text>
<line x1="356.3" y1="231.2" x2="358.8" y2="231.2" stroke="#000" stroke-width="1.2"/>
<text transform="translate(354.9,234.5) scale(0.9,1)" font-size="9" font-weight="bold" text-anchor="end" fill="#000" stroke="#000" stroke-width="0.3" >10</text>
<line x1="410.1" y1="350.5" x2="410.1" y2="353.0" stroke="#000" stroke-width="1"/>
<line x1="462.8" y1="350.5" x2="462.8" y2="353.0" stroke="#000" stroke-width="1"/>
<rect x="374.5" y="303.5" width="21.0" height="47.0" fill="#fff" stroke="#000" stroke-width="1.0"/>
<line x1="385.3" y1="295.3" x2="385.3" y2="311.1" stroke="#000" stroke-width="2.2"/>
<line x1="380.3" y1="295.3" x2="390.3" y2="295.3" stroke="#000" stroke-width="2"/>
<line x1="380.3" y1="311.1" x2="390.3" y2="311.1" stroke="#000" stroke-width="2"/>
<rect x="426.5" y="269.5" width="21.0" height="81.0" fill="#fff" stroke="#000" stroke-width="1.0"/>
<line x1="436.5" y1="246.2" x2="436.5" y2="293.7" stroke="#000" stroke-width="2.2"/>
<line x1="431.5" y1="246.2" x2="441.5" y2="246.2" stroke="#000" stroke-width="2"/>
<line x1="431.5" y1="293.7" x2="441.5" y2="293.7" stroke="#000" stroke-width="2"/>
<rect x="477.5" y="340.5" width="22.0" height="10.0" fill="#fff" stroke="#000" stroke-width="1.0"/>
<line x1="488.5" y1="336.5" x2="488.5" y2="343.9" stroke="#000" stroke-width="2.2"/>
<line x1="484.5" y1="336.5" x2="492.5" y2="336.5" stroke="#000" stroke-width="2"/>
<line x1="484.5" y1="343.9" x2="492.5" y2="343.9" stroke="#000" stroke-width="2"/>
<text x="488.8" y="331.2" font-size="20" font-weight="bold" text-anchor="middle" fill="#000" >*</text>
<text transform="translate(328.3,340.5) rotate(-90) scale(0.9,1)" font-size="10.6" font-weight="bold" stroke="#000" stroke-width="0.2">TNF-Producing H2<tspan font-size="6.5" dy="-3.8">d</tspan><tspan dy="3.8">-</tspan></text>
<text transform="translate(339.8,356) rotate(-90) scale(0.9,1)" font-size="10.6" font-weight="bold" stroke="#000" stroke-width="0.2">Specific CD8 T Cells (x10<tspan font-size="6.5" dy="-3.8">4</tspan><tspan dy="3.8">)</tspan></text>
<text x="372" y="360.5" font-size="9.3" font-weight="normal" text-anchor="start" fill="#000" stroke="#000" stroke-width="0.5" >Naive</text>
<text x="372" y="371.7" font-size="9.3" font-weight="normal" text-anchor="start" fill="#000" stroke="#000" stroke-width="0.5" >B6</text>
<text x="411.5" y="360.5" font-size="9.3" font-weight="normal" text-anchor="start" fill="#000" stroke="#000" stroke-width="0.5" >B6+BALB/c-</text>
<text x="411.5" y="371.7" font-size="9.3" font-weight="normal" text-anchor="start" fill="#000" stroke="#000" stroke-width="0.5" >DST</text>
<text x="469.3" y="360.5" font-size="9.3" font-weight="normal" text-anchor="start" fill="#000" stroke="#000" stroke-width="0.5" >B6+BALB/c-</text>
<text x="469.3" y="371.7" font-size="9.3" font-weight="normal" text-anchor="start" fill="#000" stroke="#000" stroke-width="0.5" >DST+</text>
<text x="469.3" y="382.9" font-size="9.3" font-weight="normal" text-anchor="start" fill="#000" stroke="#000" stroke-width="0.5" >anti-CD154</text>
</svg></body></html>
